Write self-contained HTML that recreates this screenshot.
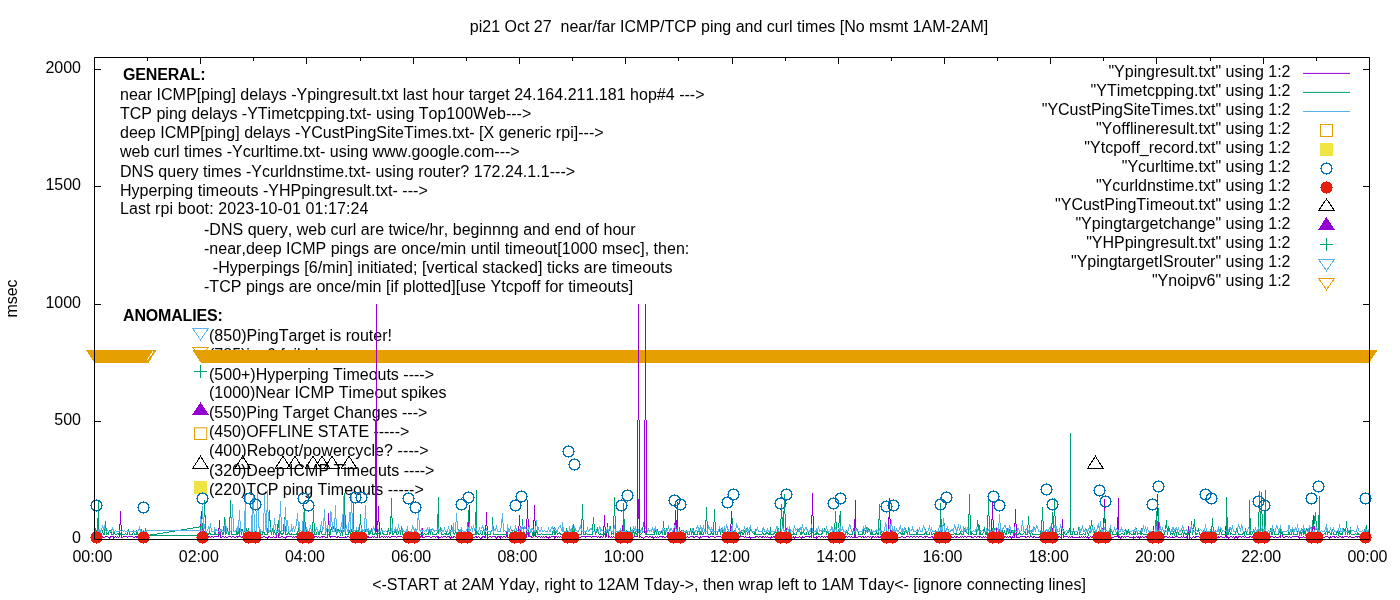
<!DOCTYPE html><html><head><meta charset="utf-8"><style>
html,body{margin:0;padding:0;background:#fff;width:1400px;height:600px;overflow:hidden}
svg{display:block;will-change:transform}
text{font-family:"Liberation Sans",sans-serif;font-size:16px;fill:#000;white-space:pre;font-kerning:none}
.b{font-weight:bold}
</style></head><body>
<svg width="1400" height="600" viewBox="0 0 1400 600">
<rect width="1400" height="600" fill="#fff"/>

<text x="729" y="32" text-anchor="middle">pi21 Oct 27  near/far ICMP/TCP ping and curl times [No msmt 1AM-2AM]</text>
<text x="729" y="590" text-anchor="middle">&lt;-START at 2AM Yday, right to 12AM Tday-&gt;, then wrap left to 1AM Tday&lt;- [ignore connecting lines]</text>
<text transform="translate(17,298.5) rotate(-90)" text-anchor="middle">msec</text>
<text x="81" y="542.6" text-anchor="end">0</text>
<text x="81" y="425.2" text-anchor="end">500</text>
<text x="81" y="307.8" text-anchor="end">1000</text>
<text x="81" y="190.4" text-anchor="end">1500</text>
<text x="81" y="73.0" text-anchor="end">2000</text>
<text x="92.5" y="562" text-anchor="middle">00:00</text>
<text x="198.8" y="562" text-anchor="middle">02:00</text>
<text x="305.0" y="562" text-anchor="middle">04:00</text>
<text x="411.2" y="562" text-anchor="middle">06:00</text>
<text x="517.5" y="562" text-anchor="middle">08:00</text>
<text x="623.8" y="562" text-anchor="middle">10:00</text>
<text x="730.0" y="562" text-anchor="middle">12:00</text>
<text x="836.2" y="562" text-anchor="middle">14:00</text>
<text x="942.5" y="562" text-anchor="middle">16:00</text>
<text x="1048.8" y="562" text-anchor="middle">18:00</text>
<text x="1155.0" y="562" text-anchor="middle">20:00</text>
<text x="1261.2" y="562" text-anchor="middle">22:00</text>
<text x="1367.5" y="562" text-anchor="middle">00:00</text>
<text x="123.0" y="80" class="b" textLength="82.46" lengthAdjust="spacing">GENERAL:</text>
<text x="120.0" y="100" textLength="584.52" lengthAdjust="spacing">near ICMP[ping] delays -Ypingresult.txt last hour target 24.164.211.181 hop#4 ---&gt;</text>
<text x="120.0" y="119">TCP ping delays -YTimetcpping.txt- using Top100Web---&gt;</text>
<text x="120.0" y="138" textLength="483.62" lengthAdjust="spacing">deep ICMP[ping] delays -YCustPingSiteTimes.txt- [X generic rpi]---&gt;</text>
<text x="120.0" y="157">web curl times -Ycurltime.txt- using www.google.com---&gt;</text>
<text x="120.0" y="176.5" textLength="455.08" lengthAdjust="spacing">DNS query times -Ycurldnstime.txt- using router? 172.24.1.1---&gt;</text>
<text x="120.0" y="195.7" textLength="307.73" lengthAdjust="spacing">Hyperping timeouts -YHPpingresult.txt- ---&gt;</text>
<text x="120.0" y="214" textLength="248.32" lengthAdjust="spacing">Last rpi boot: 2023-10-01 01:17:24</text>
<text x="204.0" y="234.5" textLength="431.57" lengthAdjust="spacing">-DNS query, web curl are twice/hr, beginnng and end of hour</text>
<text x="204.0" y="253.7" textLength="485.31" lengthAdjust="spacing">-near,deep ICMP pings are once/min until timeout[1000 msec], then:</text>
<text x="212.8" y="272.7" textLength="459.80" lengthAdjust="spacing">-Hyperpings [6/min] initiated; [vertical stacked] ticks are timeouts</text>
<text x="204.0" y="291.5" textLength="429.25" lengthAdjust="spacing">-TCP pings are once/min [if plotted][use Ytcpoff for timeouts]</text>
<text x="123.0" y="321" class="b" textLength="99.75" lengthAdjust="spacing">ANOMALIES:</text>
<text x="209.0" y="340.5" textLength="183.06" lengthAdjust="spacing">(850)PingTarget is router!</text>
<text x="209.0" y="359.5">(785)ipv6 failed</text>
<text x="209.0" y="379.7">(500+)Hyperping Timeouts ----&gt;</text>
<text x="209.0" y="398">(1000)Near ICMP Timeout spikes</text>
<text x="209.0" y="417.5">(550)Ping Target Changes ---&gt;</text>
<text x="209.0" y="436.5" textLength="200.26" lengthAdjust="spacing">(450)OFFLINE STATE -----&gt;</text>
<text x="209.0" y="455.5" textLength="219.52" lengthAdjust="spacing">(400)Reboot/powercycle? ----&gt;</text>
<text x="209.0" y="476.3">(320)Deep ICMP Timeouts ----&gt;</text>
<text x="209.0" y="495.3">(220)TCP ping Timeouts -----&gt;</text>
<text x="1290.5" y="76.9" text-anchor="end">"Ypingresult.txt" using 1:2</text>
<text x="1290.5" y="95.9" text-anchor="end">"YTimetcpping.txt" using 1:2</text>
<text x="1290.5" y="115.0" text-anchor="end">"YCustPingSiteTimes.txt" using 1:2</text>
<text x="1290.5" y="134.0" text-anchor="end">"Yofflineresult.txt" using 1:2</text>
<text x="1290.5" y="153.0" text-anchor="end">"Ytcpoff_record.txt" using 1:2</text>
<text x="1290.5" y="172.1" text-anchor="end">"Ycurltime.txt" using 1:2</text>
<text x="1290.5" y="191.1" text-anchor="end">"Ycurldnstime.txt" using 1:2</text>
<text x="1290.5" y="210.1" text-anchor="end">"YCustPingTimeout.txt" using 1:2</text>
<text x="1290.5" y="229.1" text-anchor="end">"Ypingtargetchange" using 1:2</text>
<text x="1290.5" y="248.2" text-anchor="end">"YHPpingresult.txt" using 1:2</text>
<text x="1290.5" y="267.2" text-anchor="end">"YpingtargetISrouter" using 1:2</text>
<text x="1290.5" y="286.2" text-anchor="end">"Ynoipv6" using 1:2</text>
<path d="M1303 73.4H1350" stroke="#9400d3" stroke-width="1"/>
<path d="M1303 92.4H1350" stroke="#009e73" stroke-width="1"/>
<path d="M1303 111.5H1350" stroke="#56b4e9" stroke-width="1"/>
<rect x="1320.5" y="124.5" width="12.0" height="12.0" fill="none" stroke="#e69f00" stroke-width="1"/>
<rect x="1320.0" y="143.0" width="13.0" height="13.0" fill="#f0e442" shape-rendering="crispEdges"/>
<path transform="translate(1326,168)" d="M0 -6h1v1h-1zM-3 -5h7v1h-7zM-4 -4h2v1h-2zM3 -4h2v1h-2zM-5 -3h2v1h-2zM4 -3h2v1h-2zM-5 -2h1v1h-1zM5 -2h1v1h-1zM-5 -1h1v1h-1zM5 -1h1v1h-1zM-6 0h2v1h-2zM5 0h2v1h-2zM-5 1h1v1h-1zM5 1h1v1h-1zM-5 2h1v1h-1zM5 2h1v1h-1zM-5 3h2v1h-2zM4 3h2v1h-2zM-4 4h2v1h-2zM3 4h2v1h-2zM-3 5h7v1h-7zM0 6h1v1h-1z" fill="#0072b2" shape-rendering="crispEdges"/>
<path transform="translate(1326,187)" d="M0 -6h1v1h-1zM-3 -5h7v1h-7zM-4 -4h9v1h-9zM-5 -3h11v1h-11zM-5 -2h11v1h-11zM-5 -1h11v1h-11zM-6 0h13v1h-13zM-5 1h11v1h-11zM-5 2h11v1h-11zM-5 3h11v1h-11zM-4 4h9v1h-9zM-3 5h7v1h-7zM0 6h1v1h-1z" fill="#e51e10" shape-rendering="crispEdges"/>
<polygon points="1318.7,210.3 1326.5,199.0 1334.3,210.3" fill="none" stroke="#000000" stroke-width="1" shape-rendering="crispEdges"/>
<polygon points="1318.0,229.8 1326.5,217.0 1335.0,229.8" fill="#9400d3" shape-rendering="crispEdges"/>
<path d="M1320.0 244.5H1333.0M1326.5 238.0V251.0" stroke="#009e73" stroke-width="1" fill="none"/>
<polygon points="1318.7,259.5 1326.5,270.8 1334.3,259.5" fill="none" stroke="#56b4e9" stroke-width="1" shape-rendering="crispEdges"/>
<polygon points="1318.7,278.5 1326.5,289.8 1334.3,278.5" fill="none" stroke="#e69f00" stroke-width="1" shape-rendering="crispEdges"/>
<polygon points="193.0,328.9 200.5,340.0 208.0,328.9" fill="none" stroke="#56b4e9" stroke-width="1" shape-rendering="crispEdges"/>
<polygon points="193.0,347.7 200.5,359.0 208.0,347.7" fill="none" stroke="#e69f00" stroke-width="1" shape-rendering="crispEdges"/>
<path d="M194.0 371.5H207.0M200.5 365.0V378.0" stroke="#009e73" stroke-width="1" fill="none"/>
<polygon points="192.0,415.0 200.5,402.0 209.0,415.0" fill="#9400d3" shape-rendering="crispEdges"/>
<rect x="194.5" y="427.8" width="12.2" height="11.7" fill="none" stroke="#e69f00" stroke-width="1"/>
<polygon points="192.9,468.1 200.5,456.2 208.1,468.1" fill="none" stroke="#000000" stroke-width="1" shape-rendering="crispEdges"/>
<rect x="194.2" y="481.0" width="13.0" height="13.0" fill="#f0e442" shape-rendering="crispEdges"/>
<g stroke="#000" stroke-width="1" fill="none">
<path d="M94.5 539.5h6.5M1369.5 539.5h-6.5"/>
<path d="M94.5 421.5h6.5M1369.5 421.5h-6.5"/>
<path d="M94.5 304.5h6.5M1369.5 304.5h-6.5"/>
<path d="M94.5 186.5h6.5M1369.5 186.5h-6.5"/>
<path d="M94.5 69.5h6.5M1369.5 69.5h-6.5"/>
<path d="M94.5 57.5v6.5M94.5 539.5v-6.5"/>
<path d="M147.5 57.5v3.5M147.5 539.5v-3.5"/>
<path d="M200.5 57.5v6.5M200.5 539.5v-6.5"/>
<path d="M253.5 57.5v3.5M253.5 539.5v-3.5"/>
<path d="M306.5 57.5v6.5M306.5 539.5v-6.5"/>
<path d="M360.5 57.5v3.5M360.5 539.5v-3.5"/>
<path d="M413.5 57.5v6.5M413.5 539.5v-6.5"/>
<path d="M466.5 57.5v3.5M466.5 539.5v-3.5"/>
<path d="M519.5 57.5v6.5M519.5 539.5v-6.5"/>
<path d="M572.5 57.5v3.5M572.5 539.5v-3.5"/>
<path d="M625.5 57.5v6.5M625.5 539.5v-6.5"/>
<path d="M678.5 57.5v3.5M678.5 539.5v-3.5"/>
<path d="M732.5 57.5v6.5M732.5 539.5v-6.5"/>
<path d="M785.5 57.5v3.5M785.5 539.5v-3.5"/>
<path d="M838.5 57.5v6.5M838.5 539.5v-6.5"/>
<path d="M891.5 57.5v3.5M891.5 539.5v-3.5"/>
<path d="M944.5 57.5v6.5M944.5 539.5v-6.5"/>
<path d="M997.5 57.5v3.5M997.5 539.5v-3.5"/>
<path d="M1050.5 57.5v6.5M1050.5 539.5v-6.5"/>
<path d="M1103.5 57.5v3.5M1103.5 539.5v-3.5"/>
<path d="M1156.5 57.5v6.5M1156.5 539.5v-6.5"/>
<path d="M1210.5 57.5v3.5M1210.5 539.5v-3.5"/>
<path d="M1263.5 57.5v6.5M1263.5 539.5v-6.5"/>
<path d="M1316.5 57.5v3.5M1316.5 539.5v-3.5"/>
<path d="M1369.5 57.5v6.5M1369.5 539.5v-6.5"/>
</g>
<g>
<path d="M94.50 536.50 95.50 536.50 96.50 536.50 97.50 536.50 98.50 537.50 98.50 537.50 99.50 536.50 100.50 536.50 101.50 536.50 102.50 536.50 103.50 537.50 104.50 537.50 105.50 536.50 106.50 536.50 106.50 536.50 107.50 536.50 108.50 537.50 109.50 538.50 110.50 536.50 111.50 536.50 112.50 536.50 113.50 536.50 113.50 538.50 114.50 537.50 115.50 536.50 116.50 537.50 117.50 536.50 118.50 537.50 119.50 536.50 120.50 511.50 121.50 537.50 121.50 537.50 122.50 537.50 123.50 536.50 124.50 536.50 125.50 536.50 126.50 536.50 127.50 537.50 128.50 536.50 129.50 536.50 129.50 536.50 130.50 536.50 131.50 536.50 132.50 536.50 133.50 537.50 134.50 537.50 135.50 536.50 136.50 536.50 136.50 537.50 137.50 536.50 138.50 536.50 139.50 537.50 140.50 536.50 141.50 536.50 142.50 536.50 143.50 536.50 144.50 537.50 144.50 536.50 145.50 537.50 146.50 536.50M200.50 537.50 201.50 511.50 202.50 537.50 203.50 525.50 204.50 536.50 205.50 536.50 206.50 537.50 206.50 537.50 207.50 536.50 208.50 536.50 209.50 536.50 210.50 537.50 211.50 536.50 212.50 536.50 213.50 537.50 214.50 536.50 214.50 536.50 215.50 536.50 216.50 536.50 217.50 536.50 218.50 536.50 219.50 520.50 220.50 537.50 221.50 537.50 222.50 536.50 222.50 536.50 223.50 536.50 224.50 537.50 225.50 536.50 226.50 537.50 227.50 537.50 228.50 536.50 229.50 536.50 229.50 536.50 230.50 536.50 231.50 537.50 232.50 536.50 233.50 536.50 234.50 537.50 235.50 537.50 236.50 536.50 237.50 536.50 237.50 537.50 238.50 536.50 239.50 536.50 240.50 536.50 241.50 537.50 242.50 536.50 243.50 536.50 244.50 537.50 245.50 536.50 245.50 537.50 246.50 537.50 247.50 530.50 248.50 537.50 249.50 536.50 250.50 536.50 251.50 536.50 252.50 536.50 252.50 536.50 253.50 536.50 254.50 537.50 255.50 536.50 256.50 536.50 257.50 537.50 258.50 537.50 259.50 536.50 260.50 536.50 260.50 536.50 261.50 537.50 262.50 537.50 263.50 536.50 264.50 536.50 265.50 537.50 266.50 537.50 267.50 538.50 268.50 536.50 268.50 537.50 269.50 536.50 270.50 537.50 271.50 537.50 272.50 537.50 273.50 536.50 274.50 537.50 275.50 537.50 276.50 537.50 276.50 536.50 277.50 527.50 278.50 537.50 279.50 537.50 280.50 537.50 281.50 536.50 282.50 536.50 283.50 537.50 283.50 537.50 284.50 537.50 285.50 538.50 286.50 536.50 287.50 536.50 288.50 536.50 289.50 536.50 290.50 536.50 291.50 536.50 291.50 536.50 292.50 537.50 293.50 536.50 294.50 537.50 295.50 536.50 296.50 536.50 297.50 536.50 298.50 537.50 299.50 536.50 299.50 536.50 300.50 537.50 301.50 537.50 302.50 537.50 303.50 536.50 304.50 536.50 305.50 536.50 306.50 537.50 306.50 536.50 307.50 537.50 308.50 537.50 309.50 537.50 310.50 536.50 311.50 537.50 312.50 536.50 313.50 537.50 314.50 536.50 314.50 536.50 315.50 536.50 316.50 536.50 317.50 537.50 318.50 536.50 319.50 537.50 320.50 537.50 321.50 536.50 322.50 536.50 322.50 537.50 323.50 536.50 324.50 536.50 325.50 537.50 326.50 537.50 327.50 537.50 328.50 513.50 329.50 536.50 330.50 536.50 330.50 537.50 331.50 536.50 332.50 536.50 333.50 536.50 334.50 536.50 335.50 536.50 336.50 537.50 337.50 537.50 337.50 536.50 338.50 536.50 339.50 537.50 340.50 537.50 341.50 537.50 342.50 537.50 343.50 537.50 344.50 537.50 345.50 537.50 345.50 536.50 346.50 537.50 347.50 536.50 348.50 536.50 349.50 537.50 350.50 536.50 351.50 536.50 352.50 537.50 353.50 536.50 353.50 537.50 354.50 536.50 355.50 537.50 356.50 536.50 357.50 536.50 358.50 536.50 359.50 537.50 360.50 537.50 361.50 537.50 361.50 536.50 362.50 537.50 363.50 537.50 364.50 538.50 365.50 537.50 366.50 536.50 367.50 536.50 368.50 537.50 368.50 536.50 369.50 537.50 370.50 537.50 371.50 537.50 372.50 536.50 373.50 537.50 374.50 536.50 375.50 537.50 376.50 537.50 376.50 537.50 377.50 537.50 378.50 506.50 379.50 537.50 380.50 537.50 381.50 536.50 382.50 536.50 383.50 537.50 384.50 536.50 384.50 536.50 385.50 537.50 386.50 536.50 387.50 537.50 388.50 536.50 389.50 537.50 390.50 537.50 391.50 536.50 392.50 536.50 392.50 536.50 393.50 536.50 394.50 536.50 395.50 536.50 396.50 537.50 397.50 536.50 398.50 536.50 399.50 536.50 399.50 536.50 400.50 536.50 401.50 536.50 402.50 537.50 403.50 537.50 404.50 536.50 405.50 537.50 406.50 536.50 407.50 536.50 407.50 537.50 408.50 538.50 409.50 536.50 410.50 537.50 411.50 536.50 412.50 537.50 413.50 537.50 414.50 537.50 415.50 537.50 415.50 536.50 416.50 536.50 417.50 537.50 418.50 537.50 419.50 537.50 420.50 536.50 421.50 536.50 422.50 528.50 422.50 537.50 423.50 537.50 424.50 537.50 425.50 536.50 426.50 536.50 427.50 536.50 428.50 536.50 429.50 536.50 430.50 537.50 430.50 537.50 431.50 537.50 432.50 536.50 433.50 536.50 434.50 536.50 435.50 537.50 436.50 536.50 437.50 536.50 438.50 538.50 438.50 536.50 439.50 537.50 440.50 537.50 441.50 536.50 442.50 537.50 443.50 536.50 444.50 536.50 445.50 536.50 446.50 537.50 446.50 537.50 447.50 536.50 448.50 536.50 449.50 536.50 450.50 538.50 451.50 536.50 452.50 537.50 453.50 536.50 453.50 537.50 454.50 536.50 455.50 537.50 456.50 536.50 457.50 536.50 458.50 536.50 459.50 536.50 460.50 537.50 461.50 538.50 461.50 537.50 462.50 537.50 463.50 536.50 464.50 536.50 465.50 537.50 466.50 537.50 467.50 536.50 468.50 537.50 469.50 505.50 469.50 537.50 470.50 537.50 471.50 536.50 472.50 536.50 473.50 537.50 474.50 537.50 475.50 536.50 476.50 537.50 476.50 536.50 477.50 537.50 478.50 536.50 479.50 537.50 480.50 538.50 481.50 538.50 482.50 536.50 483.50 536.50 484.50 536.50 484.50 537.50 485.50 537.50 486.50 512.50 487.50 538.50 488.50 537.50 489.50 536.50 490.50 536.50 491.50 537.50 492.50 536.50 492.50 536.50 493.50 536.50 494.50 536.50 495.50 536.50 496.50 538.50 497.50 536.50 498.50 536.50 499.50 536.50 500.50 538.50 500.50 536.50 501.50 536.50 502.50 537.50 503.50 536.50 504.50 536.50 505.50 537.50 506.50 536.50 507.50 527.50 507.50 537.50 508.50 537.50 509.50 537.50 510.50 538.50 511.50 536.50 512.50 537.50 513.50 536.50 514.50 536.50 515.50 538.50 515.50 536.50 516.50 537.50 517.50 538.50 518.50 537.50 519.50 515.50 520.50 536.50 521.50 528.50 522.50 536.50 523.50 537.50 523.50 536.50 524.50 537.50 525.50 538.50 526.50 537.50 527.50 500.50 528.50 536.50 529.50 536.50 530.50 536.50 531.50 536.50 531.50 537.50 532.50 537.50 533.50 536.50 534.50 505.50 535.50 536.50 536.50 536.50 537.50 537.50 538.50 536.50 538.50 536.50 539.50 536.50 540.50 537.50 541.50 536.50 542.50 537.50 543.50 536.50 544.50 537.50 545.50 536.50 546.50 536.50 546.50 537.50 547.50 537.50 548.50 538.50 549.50 536.50 550.50 537.50 551.50 536.50 552.50 536.50 553.50 536.50 554.50 536.50 554.50 538.50 555.50 536.50 556.50 536.50 557.50 537.50 558.50 536.50 559.50 537.50 560.50 536.50 561.50 537.50 562.50 536.50 562.50 536.50 563.50 536.50 564.50 536.50 565.50 536.50 566.50 538.50 567.50 536.50 568.50 536.50 569.50 536.50 569.50 536.50 570.50 536.50 571.50 536.50 572.50 536.50 573.50 536.50 574.50 536.50 575.50 538.50 576.50 536.50 577.50 537.50 577.50 537.50 578.50 536.50 579.50 537.50 580.50 537.50 581.50 536.50 582.50 536.50 583.50 536.50 584.50 536.50 585.50 536.50 585.50 537.50 586.50 536.50 587.50 536.50 588.50 536.50 589.50 536.50 590.50 536.50 591.50 537.50 592.50 536.50 592.50 536.50 593.50 536.50 594.50 536.50 595.50 536.50 596.50 536.50 597.50 537.50 598.50 536.50 599.50 537.50 600.50 537.50 600.50 536.50 601.50 536.50 602.50 537.50 603.50 536.50 604.50 515.50 605.50 537.50 606.50 536.50 607.50 523.50 608.50 536.50 608.50 537.50 609.50 536.50 610.50 537.50 611.50 536.50 612.50 537.50 613.50 536.50 614.50 537.50 615.50 537.50 616.50 536.50 616.50 537.50 617.50 538.50 618.50 537.50 619.50 536.50 620.50 536.50 621.50 537.50 622.50 525.50 623.50 536.50 623.50 536.50 624.50 536.50 625.50 536.50 626.50 537.50 627.50 537.50 628.50 536.50 629.50 537.50 630.50 536.50 631.50 537.50 631.50 536.50 632.50 536.50 633.50 537.50 634.50 536.50 635.50 536.50 636.50 536.50 637.50 536.50 638.50 499.50 639.50 537.50 639.50 536.50 640.50 536.50 641.50 537.50 642.50 537.50 643.50 538.50 644.50 537.50 645.50 536.50 646.50 536.50 646.50 536.50 647.50 536.50 648.50 537.50 649.50 536.50 650.50 536.50 651.50 537.50 652.50 536.50 653.50 538.50 654.50 537.50 654.50 537.50 655.50 536.50 656.50 537.50 657.50 536.50 658.50 537.50 659.50 536.50 660.50 536.50 661.50 536.50 662.50 536.50 662.50 537.50 663.50 536.50 664.50 537.50 665.50 537.50 666.50 536.50 667.50 536.50 668.50 532.50 669.50 536.50 670.50 538.50 670.50 537.50 671.50 537.50 672.50 536.50 673.50 536.50 674.50 536.50 675.50 510.50 676.50 538.50 677.50 502.50 677.50 526.50 678.50 537.50 679.50 536.50 680.50 537.50 681.50 536.50 682.50 537.50 683.50 536.50 684.50 536.50 685.50 538.50 685.50 536.50 686.50 537.50 687.50 536.50 688.50 537.50 689.50 537.50 690.50 536.50 691.50 536.50 692.50 536.50 693.50 536.50 693.50 537.50 694.50 537.50 695.50 536.50 696.50 536.50 697.50 536.50 698.50 537.50 699.50 538.50 700.50 536.50 701.50 537.50 701.50 537.50 702.50 536.50 703.50 536.50 704.50 536.50 705.50 536.50 706.50 536.50 707.50 536.50 708.50 537.50 708.50 536.50 709.50 537.50 710.50 536.50 711.50 536.50 712.50 536.50 713.50 536.50 714.50 537.50 715.50 537.50 716.50 536.50 716.50 536.50 717.50 536.50 718.50 536.50 719.50 536.50 720.50 536.50 721.50 537.50 722.50 536.50 723.50 537.50 724.50 537.50 724.50 536.50 725.50 537.50 726.50 537.50 727.50 537.50 728.50 536.50 729.50 537.50 730.50 536.50 731.50 511.50 732.50 536.50 732.50 537.50 733.50 536.50 734.50 537.50 735.50 537.50 736.50 537.50 737.50 537.50 738.50 536.50 739.50 537.50 739.50 536.50 740.50 536.50 741.50 536.50 742.50 536.50 743.50 536.50 744.50 537.50 745.50 536.50 746.50 537.50 747.50 537.50 747.50 537.50 748.50 537.50 749.50 536.50 750.50 538.50 751.50 537.50 752.50 537.50 753.50 537.50 754.50 537.50 755.50 537.50 755.50 536.50 756.50 536.50 757.50 536.50 758.50 537.50 759.50 536.50 760.50 536.50 761.50 537.50 762.50 536.50 762.50 537.50 763.50 536.50 764.50 537.50 765.50 536.50 766.50 537.50 767.50 536.50 768.50 537.50 769.50 537.50 770.50 537.50 770.50 538.50 771.50 536.50 772.50 537.50 773.50 536.50 774.50 536.50 775.50 536.50 776.50 537.50 777.50 536.50 778.50 537.50 778.50 537.50 779.50 537.50 780.50 537.50 781.50 537.50 782.50 536.50 783.50 536.50 784.50 537.50 785.50 538.50 786.50 528.50 786.50 537.50 787.50 538.50 788.50 536.50 789.50 536.50 790.50 536.50 791.50 536.50 792.50 537.50 793.50 537.50 793.50 536.50 794.50 538.50 795.50 536.50 796.50 537.50 797.50 537.50 798.50 537.50 799.50 536.50 800.50 537.50 801.50 537.50 801.50 538.50 802.50 536.50 803.50 537.50 804.50 537.50 805.50 536.50 806.50 536.50 807.50 536.50 808.50 536.50 809.50 536.50 809.50 537.50 810.50 536.50 811.50 537.50 812.50 493.50 813.50 537.50 814.50 537.50 815.50 537.50 816.50 536.50 816.50 538.50 817.50 537.50 818.50 536.50 819.50 536.50 820.50 537.50 821.50 536.50 822.50 536.50 823.50 537.50 824.50 536.50 824.50 536.50 825.50 537.50 826.50 536.50 827.50 536.50 828.50 536.50 829.50 536.50 830.50 537.50 831.50 536.50 832.50 536.50 832.50 536.50 833.50 536.50 834.50 537.50 835.50 536.50 836.50 536.50 837.50 536.50 838.50 537.50 839.50 536.50 840.50 536.50 840.50 538.50 841.50 537.50 842.50 536.50 843.50 537.50 844.50 536.50 845.50 536.50 846.50 536.50 847.50 537.50 847.50 537.50 848.50 536.50 849.50 536.50 850.50 537.50 851.50 536.50 852.50 537.50 853.50 537.50 854.50 537.50 855.50 500.50 855.50 537.50 856.50 537.50 857.50 537.50 858.50 536.50 859.50 536.50 860.50 536.50 861.50 537.50 862.50 536.50 863.50 536.50 863.50 537.50 864.50 537.50 865.50 536.50 866.50 537.50 867.50 536.50 868.50 536.50 869.50 537.50 870.50 536.50 871.50 537.50 871.50 538.50 872.50 536.50 873.50 536.50 874.50 537.50 875.50 536.50 876.50 537.50 877.50 536.50 878.50 536.50 878.50 537.50 879.50 537.50 880.50 536.50 881.50 537.50 882.50 537.50 883.50 536.50 884.50 536.50 885.50 536.50 886.50 536.50 886.50 537.50 887.50 537.50 888.50 536.50 889.50 498.50 890.50 538.50 891.50 537.50 892.50 536.50 893.50 536.50 894.50 537.50 894.50 536.50 895.50 537.50 896.50 537.50 897.50 538.50 898.50 537.50 899.50 537.50 900.50 537.50 901.50 536.50 902.50 536.50 902.50 536.50 903.50 537.50 904.50 537.50 905.50 537.50 906.50 536.50 907.50 536.50 908.50 536.50 909.50 537.50 909.50 537.50 910.50 536.50 911.50 536.50 912.50 537.50 913.50 536.50 914.50 536.50 915.50 537.50 916.50 536.50 917.50 536.50 917.50 536.50 918.50 537.50 919.50 536.50 920.50 536.50 921.50 536.50 922.50 537.50 923.50 537.50 924.50 536.50 925.50 536.50 925.50 537.50 926.50 536.50 927.50 536.50 928.50 537.50 929.50 537.50 930.50 537.50 931.50 536.50 932.50 536.50 932.50 536.50 933.50 538.50 934.50 537.50 935.50 536.50 936.50 537.50 937.50 536.50 938.50 536.50 939.50 536.50 940.50 536.50 940.50 537.50 941.50 537.50 942.50 536.50 943.50 537.50 944.50 536.50 945.50 536.50 946.50 536.50 947.50 536.50 948.50 536.50 948.50 536.50 949.50 536.50 950.50 537.50 951.50 536.50 952.50 537.50 953.50 537.50 954.50 536.50 955.50 537.50 956.50 537.50 956.50 536.50 957.50 536.50 958.50 537.50 959.50 537.50 960.50 536.50 961.50 537.50 962.50 536.50 963.50 537.50 963.50 537.50 964.50 536.50 965.50 536.50 966.50 537.50 967.50 536.50 968.50 536.50 969.50 536.50 970.50 536.50 971.50 537.50 971.50 536.50 972.50 537.50 973.50 537.50 974.50 536.50 975.50 536.50 976.50 537.50 977.50 536.50 978.50 536.50 979.50 536.50 979.50 537.50 980.50 536.50 981.50 537.50 982.50 537.50 983.50 536.50 984.50 537.50 985.50 536.50 986.50 537.50 986.50 537.50 987.50 537.50 988.50 537.50 989.50 536.50 990.50 537.50 991.50 536.50 992.50 502.50 993.50 536.50 994.50 538.50 994.50 536.50 995.50 536.50 996.50 528.50 997.50 536.50 998.50 530.50 999.50 537.50 1000.50 537.50 1001.50 536.50 1002.50 536.50 1002.50 537.50 1003.50 536.50 1004.50 536.50 1005.50 536.50 1006.50 537.50 1007.50 536.50 1008.50 537.50 1009.50 536.50 1010.50 536.50 1010.50 537.50 1011.50 538.50 1012.50 536.50 1013.50 537.50 1014.50 537.50 1015.50 509.50 1016.50 537.50 1017.50 537.50 1017.50 537.50 1018.50 537.50 1019.50 537.50 1020.50 536.50 1021.50 536.50 1022.50 536.50 1023.50 536.50 1024.50 536.50 1025.50 536.50 1025.50 537.50 1026.50 537.50 1027.50 536.50 1028.50 536.50 1029.50 537.50 1030.50 536.50 1031.50 536.50 1032.50 537.50 1033.50 537.50 1033.50 536.50 1034.50 536.50 1035.50 537.50 1036.50 537.50 1037.50 537.50 1038.50 537.50 1039.50 536.50 1040.50 536.50 1041.50 536.50 1041.50 537.50 1042.50 536.50 1043.50 536.50 1044.50 536.50 1045.50 536.50 1046.50 536.50 1047.50 537.50 1048.50 536.50 1048.50 536.50 1049.50 536.50 1050.50 537.50 1051.50 537.50 1052.50 528.50 1053.50 536.50 1054.50 536.50 1055.50 536.50 1056.50 538.50 1056.50 538.50 1057.50 536.50 1058.50 536.50 1059.50 536.50 1060.50 537.50 1061.50 538.50 1062.50 519.50 1063.50 537.50 1064.50 536.50 1064.50 536.50 1065.50 536.50 1066.50 536.50 1067.50 536.50 1068.50 537.50 1069.50 536.50 1070.50 537.50 1071.50 536.50 1072.50 536.50 1072.50 537.50 1073.50 537.50 1074.50 537.50 1075.50 537.50 1076.50 537.50 1077.50 537.50 1078.50 537.50 1079.50 537.50 1079.50 536.50 1080.50 537.50 1081.50 536.50 1082.50 537.50 1083.50 536.50 1084.50 537.50 1085.50 536.50 1086.50 537.50 1087.50 536.50 1087.50 536.50 1088.50 538.50 1089.50 537.50 1090.50 536.50 1091.50 537.50 1092.50 536.50 1093.50 536.50 1094.50 538.50 1095.50 536.50 1095.50 538.50 1096.50 536.50 1097.50 536.50 1098.50 537.50 1099.50 536.50 1100.50 536.50 1101.50 536.50 1102.50 537.50 1102.50 528.50 1103.50 536.50 1104.50 499.50 1105.50 537.50 1106.50 538.50 1107.50 536.50 1108.50 537.50 1109.50 536.50 1110.50 536.50 1110.50 537.50 1111.50 538.50 1112.50 537.50 1113.50 537.50 1114.50 536.50 1115.50 536.50 1116.50 536.50 1117.50 536.50 1118.50 498.50 1118.50 537.50 1119.50 536.50 1120.50 538.50 1121.50 536.50 1122.50 536.50 1123.50 537.50 1124.50 536.50 1125.50 537.50 1126.50 536.50 1126.50 536.50 1127.50 536.50 1128.50 536.50 1129.50 537.50 1130.50 537.50 1131.50 537.50 1132.50 537.50 1133.50 538.50 1133.50 536.50 1134.50 537.50 1135.50 537.50 1136.50 536.50 1137.50 537.50 1138.50 536.50 1139.50 538.50 1140.50 536.50 1141.50 537.50 1141.50 537.50 1142.50 536.50 1143.50 537.50 1144.50 537.50 1145.50 536.50 1146.50 536.50 1147.50 536.50 1148.50 538.50 1149.50 536.50 1149.50 537.50 1150.50 536.50 1151.50 538.50 1152.50 537.50 1153.50 526.50 1154.50 538.50 1155.50 537.50 1156.50 537.50 1156.50 536.50 1157.50 494.50 1158.50 536.50 1159.50 536.50 1160.50 536.50 1161.50 536.50 1162.50 538.50 1163.50 536.50 1164.50 536.50 1164.50 537.50 1165.50 536.50 1166.50 536.50 1167.50 537.50 1168.50 537.50 1169.50 536.50 1170.50 537.50 1171.50 537.50 1172.50 536.50 1172.50 537.50 1173.50 537.50 1174.50 537.50 1175.50 536.50 1176.50 536.50 1177.50 536.50 1178.50 537.50 1179.50 537.50 1180.50 537.50 1180.50 537.50 1181.50 536.50 1182.50 537.50 1183.50 536.50 1184.50 537.50 1185.50 537.50 1186.50 536.50 1187.50 538.50 1187.50 537.50 1188.50 526.50 1189.50 538.50 1190.50 537.50 1191.50 538.50 1192.50 537.50 1193.50 536.50 1194.50 537.50 1195.50 536.50 1195.50 537.50 1196.50 536.50 1197.50 536.50 1198.50 536.50 1199.50 537.50 1200.50 537.50 1201.50 537.50 1202.50 536.50 1203.50 536.50 1203.50 537.50 1204.50 537.50 1205.50 536.50 1206.50 536.50 1207.50 536.50 1208.50 537.50 1209.50 537.50 1210.50 536.50 1211.50 536.50 1211.50 536.50 1212.50 533.50 1213.50 537.50 1214.50 536.50 1215.50 536.50 1216.50 538.50 1217.50 537.50 1218.50 537.50 1218.50 536.50 1219.50 537.50 1220.50 536.50 1221.50 536.50 1222.50 537.50 1223.50 537.50 1224.50 537.50 1225.50 536.50 1226.50 516.50 1226.50 537.50 1227.50 536.50 1228.50 538.50 1229.50 537.50 1230.50 536.50 1231.50 536.50 1232.50 537.50 1233.50 536.50 1234.50 537.50 1234.50 538.50 1235.50 536.50 1236.50 536.50 1237.50 538.50 1238.50 536.50 1239.50 536.50 1240.50 536.50 1241.50 537.50 1242.50 536.50 1242.50 536.50 1243.50 536.50 1244.50 537.50 1245.50 536.50 1246.50 537.50 1247.50 537.50 1248.50 537.50 1249.50 536.50 1249.50 537.50 1250.50 536.50 1251.50 537.50 1252.50 536.50 1253.50 537.50 1254.50 536.50 1255.50 537.50 1256.50 536.50 1257.50 538.50 1257.50 536.50 1258.50 538.50 1259.50 536.50 1260.50 537.50 1261.50 537.50 1262.50 537.50 1263.50 536.50 1264.50 528.50 1265.50 536.50 1265.50 524.50 1266.50 536.50 1267.50 537.50 1268.50 537.50 1269.50 536.50 1270.50 536.50 1271.50 536.50 1272.50 536.50 1272.50 536.50 1273.50 537.50 1274.50 537.50 1275.50 536.50 1276.50 537.50 1277.50 537.50 1278.50 537.50 1279.50 536.50 1280.50 537.50 1280.50 536.50 1281.50 531.50 1282.50 536.50 1283.50 537.50 1284.50 537.50 1285.50 536.50 1286.50 536.50 1287.50 536.50 1288.50 537.50 1288.50 537.50 1289.50 536.50 1290.50 537.50 1291.50 537.50 1292.50 536.50 1293.50 536.50 1294.50 536.50 1295.50 536.50 1296.50 536.50 1296.50 536.50 1297.50 536.50 1298.50 536.50 1299.50 538.50 1300.50 537.50 1301.50 537.50 1302.50 537.50 1303.50 536.50 1303.50 536.50 1304.50 537.50 1305.50 537.50 1306.50 537.50 1307.50 537.50 1308.50 537.50 1309.50 536.50 1310.50 536.50 1311.50 537.50 1311.50 536.50 1312.50 537.50 1313.50 515.50 1314.50 536.50 1315.50 534.50 1316.50 537.50 1317.50 537.50 1318.50 537.50 1319.50 536.50 1319.50 536.50 1320.50 538.50 1321.50 537.50 1322.50 537.50 1323.50 537.50 1324.50 537.50 1325.50 536.50 1326.50 536.50 1326.50 536.50 1327.50 536.50 1328.50 537.50 1329.50 538.50 1330.50 536.50 1331.50 537.50 1332.50 536.50 1333.50 536.50 1334.50 537.50 1334.50 536.50 1335.50 537.50 1336.50 536.50 1337.50 537.50 1338.50 537.50 1339.50 536.50 1340.50 536.50 1341.50 537.50 1342.50 536.50 1342.50 537.50 1343.50 537.50 1344.50 536.50 1345.50 536.50 1346.50 536.50 1347.50 536.50 1348.50 537.50 1349.50 536.50 1350.50 536.50 1350.50 536.50 1351.50 537.50 1352.50 537.50 1353.50 537.50 1354.50 537.50 1355.50 536.50 1356.50 536.50 1357.50 537.50 1357.50 536.50 1358.50 536.50 1359.50 536.50 1360.50 536.50 1361.50 536.50 1362.50 536.50 1363.50 536.50 1364.50 536.50 1365.50 537.50 1365.50 536.50 1366.50 537.50 1367.50 536.50 1368.50 536.50" fill="none" stroke="#9400d3" stroke-width="1" shape-rendering="crispEdges"/>
<path d="M94.50 534.50 95.50 529.50 96.50 531.50 97.50 534.50 98.50 501.50 98.50 534.50 99.50 530.50 100.50 534.50 101.50 534.50 102.50 531.50 103.50 534.50 104.50 534.50 105.50 521.50 106.50 534.50 106.50 534.50 107.50 533.50 108.50 534.50 109.50 530.50 110.50 530.50 111.50 534.50 112.50 534.50 113.50 534.50 113.50 529.50 114.50 533.50 115.50 534.50 116.50 534.50 117.50 533.50 118.50 534.50 119.50 531.50 120.50 534.50 121.50 534.50 121.50 534.50 122.50 534.50 123.50 534.50 124.50 534.50 125.50 533.50 126.50 534.50 127.50 534.50 128.50 529.50 129.50 534.50 129.50 534.50 130.50 534.50 131.50 534.50 132.50 534.50 133.50 531.50 134.50 534.50 135.50 534.50 136.50 534.50 136.50 530.50 137.50 534.50 138.50 534.50 139.50 534.50 140.50 534.50 141.50 529.50 142.50 534.50 143.50 534.50 144.50 534.50 144.50 534.50 145.50 528.50 146.50 533.50M200.50 527.50 201.50 534.50 202.50 523.50 203.50 534.50 204.50 500.50 205.50 528.50 206.50 534.50 206.50 531.50 207.50 534.50 208.50 534.50 209.50 532.50 210.50 534.50 211.50 534.50 212.50 534.50 213.50 534.50 214.50 534.50 214.50 532.50 215.50 534.50 216.50 534.50 217.50 534.50 218.50 534.50 219.50 534.50 220.50 529.50 221.50 529.50 222.50 534.50 222.50 534.50 223.50 534.50 224.50 517.50 225.50 534.50 226.50 533.50 227.50 528.50 228.50 534.50 229.50 534.50 229.50 533.50 230.50 500.50 231.50 534.50 232.50 534.50 233.50 534.50 234.50 534.50 235.50 534.50 236.50 534.50 237.50 528.50 237.50 534.50 238.50 532.50 239.50 534.50 240.50 522.50 241.50 534.50 242.50 529.50 243.50 533.50 244.50 528.50 245.50 534.50 245.50 534.50 246.50 529.50 247.50 531.50 248.50 529.50 249.50 534.50 250.50 534.50 251.50 534.50 252.50 531.50 252.50 534.50 253.50 534.50 254.50 532.50 255.50 534.50 256.50 528.50 257.50 534.50 258.50 534.50 259.50 530.50 260.50 534.50 260.50 534.50 261.50 534.50 262.50 534.50 263.50 530.50 264.50 534.50 265.50 534.50 266.50 534.50 267.50 534.50 268.50 521.50 268.50 532.50 269.50 510.50 270.50 529.50 271.50 534.50 272.50 528.50 273.50 534.50 274.50 531.50 275.50 534.50 276.50 533.50 276.50 534.50 277.50 528.50 278.50 520.50 279.50 534.50 280.50 532.50 281.50 534.50 282.50 534.50 283.50 532.50 283.50 530.50 284.50 517.50 285.50 534.50 286.50 534.50 287.50 534.50 288.50 532.50 289.50 534.50 290.50 534.50 291.50 534.50 291.50 533.50 292.50 534.50 293.50 534.50 294.50 534.50 295.50 534.50 296.50 534.50 297.50 532.50 298.50 529.50 299.50 534.50 299.50 534.50 300.50 534.50 301.50 534.50 302.50 534.50 303.50 534.50 304.50 509.50 305.50 534.50 306.50 530.50 306.50 528.50 307.50 533.50 308.50 534.50 309.50 533.50 310.50 534.50 311.50 530.50 312.50 534.50 313.50 510.50 314.50 534.50 314.50 534.50 315.50 534.50 316.50 534.50 317.50 529.50 318.50 534.50 319.50 534.50 320.50 529.50 321.50 533.50 322.50 534.50 322.50 534.50 323.50 534.50 324.50 534.50 325.50 534.50 326.50 529.50 327.50 534.50 328.50 534.50 329.50 533.50 330.50 534.50 330.50 530.50 331.50 528.50 332.50 530.50 333.50 526.50 334.50 527.50 335.50 529.50 336.50 534.50 337.50 530.50 337.50 529.50 338.50 529.50 339.50 531.50 340.50 534.50 341.50 531.50 342.50 534.50 343.50 529.50 344.50 493.50 345.50 534.50 345.50 534.50 346.50 534.50 347.50 534.50 348.50 534.50 349.50 530.50 350.50 534.50 351.50 529.50 352.50 534.50 353.50 502.50 353.50 534.50 354.50 534.50 355.50 534.50 356.50 531.50 357.50 534.50 358.50 528.50 359.50 534.50 360.50 514.50 361.50 534.50 361.50 534.50 362.50 531.50 363.50 534.50 364.50 534.50 365.50 529.50 366.50 528.50 367.50 529.50 368.50 534.50 368.50 530.50 369.50 534.50 370.50 533.50 371.50 528.50 372.50 534.50 373.50 534.50 374.50 534.50 375.50 532.50 376.50 534.50 376.50 534.50 377.50 534.50 378.50 533.50 379.50 534.50 380.50 534.50 381.50 528.50 382.50 532.50 383.50 534.50 384.50 534.50 384.50 534.50 385.50 534.50 386.50 534.50 387.50 534.50 388.50 528.50 389.50 534.50 390.50 533.50 391.50 498.50 392.50 534.50 392.50 534.50 393.50 534.50 394.50 531.50 395.50 530.50 396.50 534.50 397.50 534.50 398.50 533.50 399.50 529.50 399.50 528.50 400.50 534.50 401.50 526.50 402.50 534.50 403.50 534.50 404.50 534.50 405.50 534.50 406.50 534.50 407.50 529.50 407.50 534.50 408.50 534.50 409.50 534.50 410.50 534.50 411.50 534.50 412.50 534.50 413.50 534.50 414.50 529.50 415.50 534.50 415.50 528.50 416.50 532.50 417.50 534.50 418.50 534.50 419.50 534.50 420.50 534.50 421.50 534.50 422.50 533.50 422.50 534.50 423.50 534.50 424.50 533.50 425.50 534.50 426.50 534.50 427.50 533.50 428.50 534.50 429.50 530.50 430.50 534.50 430.50 533.50 431.50 529.50 432.50 534.50 433.50 534.50 434.50 534.50 435.50 534.50 436.50 534.50 437.50 531.50 438.50 497.50 438.50 533.50 439.50 530.50 440.50 528.50 441.50 534.50 442.50 534.50 443.50 534.50 444.50 533.50 445.50 534.50 446.50 531.50 446.50 534.50 447.50 534.50 448.50 534.50 449.50 532.50 450.50 534.50 451.50 525.50 452.50 530.50 453.50 528.50 453.50 533.50 454.50 534.50 455.50 531.50 456.50 532.50 457.50 534.50 458.50 529.50 459.50 530.50 460.50 534.50 461.50 534.50 461.50 531.50 462.50 534.50 463.50 534.50 464.50 534.50 465.50 534.50 466.50 534.50 467.50 534.50 468.50 510.50 469.50 531.50 469.50 534.50 470.50 534.50 471.50 534.50 472.50 534.50 473.50 534.50 474.50 534.50 475.50 534.50 476.50 490.50 476.50 534.50 477.50 532.50 478.50 534.50 479.50 534.50 480.50 533.50 481.50 534.50 482.50 534.50 483.50 527.50 484.50 534.50 484.50 534.50 485.50 534.50 486.50 534.50 487.50 534.50 488.50 534.50 489.50 534.50 490.50 534.50 491.50 530.50 492.50 530.50 492.50 517.50 493.50 534.50 494.50 534.50 495.50 534.50 496.50 534.50 497.50 534.50 498.50 534.50 499.50 534.50 500.50 534.50 500.50 534.50 501.50 534.50 502.50 534.50 503.50 534.50 504.50 534.50 505.50 534.50 506.50 534.50 507.50 534.50 507.50 534.50 508.50 529.50 509.50 529.50 510.50 534.50 511.50 534.50 512.50 530.50 513.50 534.50 514.50 529.50 515.50 534.50 515.50 534.50 516.50 528.50 517.50 534.50 518.50 534.50 519.50 529.50 520.50 534.50 521.50 534.50 522.50 519.50 523.50 534.50 523.50 530.50 524.50 534.50 525.50 534.50 526.50 534.50 527.50 534.50 528.50 529.50 529.50 534.50 530.50 531.50 531.50 529.50 531.50 529.50 532.50 534.50 533.50 531.50 534.50 534.50 535.50 529.50 536.50 530.50 537.50 534.50 538.50 534.50 538.50 534.50 539.50 534.50 540.50 534.50 541.50 533.50 542.50 534.50 543.50 534.50 544.50 534.50 545.50 534.50 546.50 534.50 546.50 534.50 547.50 534.50 548.50 534.50 549.50 534.50 550.50 534.50 551.50 534.50 552.50 534.50 553.50 528.50 554.50 534.50 554.50 527.50 555.50 534.50 556.50 531.50 557.50 534.50 558.50 533.50 559.50 532.50 560.50 534.50 561.50 534.50 562.50 534.50 562.50 534.50 563.50 534.50 564.50 531.50 565.50 532.50 566.50 529.50 567.50 534.50 568.50 534.50 569.50 534.50 569.50 534.50 570.50 534.50 571.50 534.50 572.50 532.50 573.50 524.50 574.50 531.50 575.50 534.50 576.50 534.50 577.50 534.50 577.50 534.50 578.50 534.50 579.50 534.50 580.50 534.50 581.50 534.50 582.50 504.50 583.50 534.50 584.50 534.50 585.50 534.50 585.50 532.50 586.50 533.50 587.50 534.50 588.50 534.50 589.50 534.50 590.50 534.50 591.50 534.50 592.50 534.50 592.50 531.50 593.50 517.50 594.50 529.50 595.50 534.50 596.50 530.50 597.50 528.50 598.50 533.50 599.50 534.50 600.50 534.50 600.50 533.50 601.50 534.50 602.50 534.50 603.50 534.50 604.50 534.50 605.50 532.50 606.50 532.50 607.50 530.50 608.50 534.50 608.50 530.50 609.50 530.50 610.50 526.50 611.50 534.50 612.50 533.50 613.50 534.50 614.50 497.50 615.50 533.50 616.50 534.50 616.50 534.50 617.50 532.50 618.50 534.50 619.50 534.50 620.50 534.50 621.50 534.50 622.50 534.50 623.50 534.50 623.50 503.50 624.50 534.50 625.50 534.50 626.50 530.50 627.50 534.50 628.50 534.50 629.50 534.50 630.50 527.50 631.50 534.50 631.50 533.50 632.50 534.50 633.50 530.50 634.50 534.50 635.50 532.50 636.50 534.50 637.50 534.50 638.50 531.50 639.50 532.50 639.50 534.50 640.50 534.50 641.50 533.50 642.50 532.50 643.50 522.50 644.50 531.50 645.50 534.50 646.50 527.50 646.50 534.50 647.50 534.50 648.50 534.50 649.50 534.50 650.50 534.50 651.50 534.50 652.50 534.50 653.50 534.50 654.50 534.50 654.50 533.50 655.50 528.50 656.50 534.50 657.50 529.50 658.50 534.50 659.50 534.50 660.50 533.50 661.50 531.50 662.50 530.50 662.50 534.50 663.50 521.50 664.50 534.50 665.50 534.50 666.50 528.50 667.50 534.50 668.50 534.50 669.50 534.50 670.50 534.50 670.50 534.50 671.50 534.50 672.50 534.50 673.50 530.50 674.50 534.50 675.50 534.50 676.50 534.50 677.50 527.50 677.50 534.50 678.50 534.50 679.50 527.50 680.50 534.50 681.50 530.50 682.50 534.50 683.50 531.50 684.50 534.50 685.50 534.50 685.50 534.50 686.50 530.50 687.50 534.50 688.50 534.50 689.50 534.50 690.50 528.50 691.50 534.50 692.50 530.50 693.50 534.50 693.50 528.50 694.50 534.50 695.50 534.50 696.50 534.50 697.50 534.50 698.50 528.50 699.50 534.50 700.50 534.50 701.50 528.50 701.50 534.50 702.50 534.50 703.50 534.50 704.50 530.50 705.50 533.50 706.50 507.50 707.50 533.50 708.50 534.50 708.50 534.50 709.50 534.50 710.50 534.50 711.50 532.50 712.50 534.50 713.50 534.50 714.50 509.50 715.50 534.50 716.50 534.50 716.50 534.50 717.50 534.50 718.50 529.50 719.50 528.50 720.50 534.50 721.50 528.50 722.50 531.50 723.50 534.50 724.50 528.50 724.50 534.50 725.50 534.50 726.50 534.50 727.50 534.50 728.50 530.50 729.50 534.50 730.50 534.50 731.50 534.50 732.50 518.50 732.50 533.50 733.50 533.50 734.50 531.50 735.50 533.50 736.50 534.50 737.50 534.50 738.50 534.50 739.50 530.50 739.50 532.50 740.50 534.50 741.50 530.50 742.50 534.50 743.50 534.50 744.50 531.50 745.50 534.50 746.50 528.50 747.50 534.50 747.50 534.50 748.50 530.50 749.50 534.50 750.50 528.50 751.50 529.50 752.50 532.50 753.50 533.50 754.50 534.50 755.50 529.50 755.50 534.50 756.50 534.50 757.50 534.50 758.50 534.50 759.50 534.50 760.50 534.50 761.50 534.50 762.50 533.50 762.50 531.50 763.50 534.50 764.50 534.50 765.50 534.50 766.50 532.50 767.50 532.50 768.50 534.50 769.50 534.50 770.50 527.50 770.50 534.50 771.50 534.50 772.50 534.50 773.50 534.50 774.50 532.50 775.50 531.50 776.50 533.50 777.50 530.50 778.50 528.50 778.50 534.50 779.50 534.50 780.50 534.50 781.50 504.50 782.50 528.50 783.50 527.50 784.50 494.50 785.50 531.50 786.50 534.50 786.50 530.50 787.50 534.50 788.50 534.50 789.50 528.50 790.50 534.50 791.50 534.50 792.50 534.50 793.50 534.50 793.50 531.50 794.50 534.50 795.50 534.50 796.50 534.50 797.50 529.50 798.50 529.50 799.50 528.50 800.50 534.50 801.50 530.50 801.50 534.50 802.50 533.50 803.50 531.50 804.50 534.50 805.50 534.50 806.50 534.50 807.50 529.50 808.50 534.50 809.50 534.50 809.50 534.50 810.50 533.50 811.50 534.50 812.50 531.50 813.50 534.50 814.50 534.50 815.50 534.50 816.50 532.50 816.50 534.50 817.50 532.50 818.50 534.50 819.50 534.50 820.50 534.50 821.50 534.50 822.50 532.50 823.50 530.50 824.50 531.50 824.50 528.50 825.50 529.50 826.50 533.50 827.50 530.50 828.50 534.50 829.50 534.50 830.50 533.50 831.50 534.50 832.50 529.50 832.50 534.50 833.50 529.50 834.50 534.50 835.50 511.50 836.50 532.50 837.50 534.50 838.50 528.50 839.50 518.50 840.50 511.50 840.50 533.50 841.50 533.50 842.50 534.50 843.50 534.50 844.50 534.50 845.50 534.50 846.50 530.50 847.50 534.50 847.50 534.50 848.50 533.50 849.50 534.50 850.50 534.50 851.50 534.50 852.50 534.50 853.50 529.50 854.50 532.50 855.50 534.50 855.50 533.50 856.50 528.50 857.50 529.50 858.50 534.50 859.50 534.50 860.50 534.50 861.50 534.50 862.50 534.50 863.50 528.50 863.50 533.50 864.50 534.50 865.50 533.50 866.50 527.50 867.50 531.50 868.50 528.50 869.50 529.50 870.50 534.50 871.50 534.50 871.50 529.50 872.50 534.50 873.50 534.50 874.50 534.50 875.50 534.50 876.50 532.50 877.50 534.50 878.50 534.50 878.50 533.50 879.50 504.50 880.50 534.50 881.50 531.50 882.50 534.50 883.50 534.50 884.50 534.50 885.50 534.50 886.50 532.50 886.50 533.50 887.50 533.50 888.50 533.50 889.50 534.50 890.50 533.50 891.50 531.50 892.50 534.50 893.50 534.50 894.50 534.50 894.50 528.50 895.50 534.50 896.50 534.50 897.50 534.50 898.50 533.50 899.50 532.50 900.50 532.50 901.50 534.50 902.50 534.50 902.50 532.50 903.50 534.50 904.50 534.50 905.50 528.50 906.50 531.50 907.50 534.50 908.50 528.50 909.50 530.50 909.50 534.50 910.50 534.50 911.50 534.50 912.50 534.50 913.50 534.50 914.50 534.50 915.50 534.50 916.50 534.50 917.50 529.50 917.50 534.50 918.50 534.50 919.50 534.50 920.50 534.50 921.50 534.50 922.50 534.50 923.50 534.50 924.50 534.50 925.50 532.50 925.50 529.50 926.50 534.50 927.50 534.50 928.50 534.50 929.50 534.50 930.50 529.50 931.50 534.50 932.50 534.50 932.50 534.50 933.50 533.50 934.50 534.50 935.50 531.50 936.50 534.50 937.50 534.50 938.50 531.50 939.50 534.50 940.50 534.50 940.50 503.50 941.50 534.50 942.50 530.50 943.50 522.50 944.50 524.50 945.50 534.50 946.50 533.50 947.50 534.50 948.50 534.50 948.50 534.50 949.50 534.50 950.50 534.50 951.50 534.50 952.50 534.50 953.50 534.50 954.50 533.50 955.50 534.50 956.50 531.50 956.50 534.50 957.50 534.50 958.50 534.50 959.50 534.50 960.50 532.50 961.50 534.50 962.50 534.50 963.50 534.50 963.50 534.50 964.50 529.50 965.50 531.50 966.50 532.50 967.50 533.50 968.50 534.50 969.50 494.50 970.50 534.50 971.50 534.50 971.50 532.50 972.50 533.50 973.50 534.50 974.50 534.50 975.50 534.50 976.50 534.50 977.50 520.50 978.50 527.50 979.50 534.50 979.50 525.50 980.50 534.50 981.50 534.50 982.50 534.50 983.50 531.50 984.50 527.50 985.50 534.50 986.50 534.50 986.50 532.50 987.50 534.50 988.50 496.50 989.50 534.50 990.50 534.50 991.50 534.50 992.50 528.50 993.50 531.50 994.50 528.50 994.50 534.50 995.50 534.50 996.50 534.50 997.50 534.50 998.50 534.50 999.50 529.50 1000.50 529.50 1001.50 533.50 1002.50 534.50 1002.50 529.50 1003.50 534.50 1004.50 531.50 1005.50 534.50 1006.50 534.50 1007.50 528.50 1008.50 532.50 1009.50 530.50 1010.50 534.50 1010.50 534.50 1011.50 530.50 1012.50 530.50 1013.50 534.50 1014.50 531.50 1015.50 534.50 1016.50 534.50 1017.50 534.50 1017.50 534.50 1018.50 534.50 1019.50 532.50 1020.50 534.50 1021.50 534.50 1022.50 534.50 1023.50 533.50 1024.50 532.50 1025.50 529.50 1025.50 534.50 1026.50 534.50 1027.50 534.50 1028.50 516.50 1029.50 532.50 1030.50 534.50 1031.50 531.50 1032.50 534.50 1033.50 534.50 1033.50 534.50 1034.50 534.50 1035.50 534.50 1036.50 534.50 1037.50 534.50 1038.50 534.50 1039.50 534.50 1040.50 534.50 1041.50 528.50 1041.50 534.50 1042.50 507.50 1043.50 534.50 1044.50 534.50 1045.50 534.50 1046.50 534.50 1047.50 531.50 1048.50 529.50 1048.50 534.50 1049.50 534.50 1050.50 528.50 1051.50 534.50 1052.50 512.50 1053.50 534.50 1054.50 498.50 1055.50 532.50 1056.50 527.50 1056.50 534.50 1057.50 534.50 1058.50 534.50 1059.50 533.50 1060.50 534.50 1061.50 534.50 1062.50 534.50 1063.50 534.50 1064.50 532.50 1064.50 533.50 1065.50 534.50 1066.50 534.50 1067.50 531.50 1068.50 532.50 1069.50 528.50 1070.50 534.50 1071.50 534.50 1072.50 534.50 1072.50 534.50 1073.50 528.50 1074.50 534.50 1075.50 534.50 1076.50 534.50 1077.50 534.50 1078.50 527.50 1079.50 534.50 1079.50 534.50 1080.50 534.50 1081.50 534.50 1082.50 534.50 1083.50 533.50 1084.50 534.50 1085.50 534.50 1086.50 530.50 1087.50 532.50 1087.50 532.50 1088.50 534.50 1089.50 531.50 1090.50 532.50 1091.50 520.50 1092.50 528.50 1093.50 529.50 1094.50 533.50 1095.50 534.50 1095.50 530.50 1096.50 531.50 1097.50 533.50 1098.50 534.50 1099.50 534.50 1100.50 531.50 1101.50 533.50 1102.50 532.50 1102.50 531.50 1103.50 534.50 1104.50 511.50 1105.50 534.50 1106.50 534.50 1107.50 532.50 1108.50 534.50 1109.50 530.50 1110.50 528.50 1110.50 533.50 1111.50 529.50 1112.50 534.50 1113.50 534.50 1114.50 534.50 1115.50 534.50 1116.50 534.50 1117.50 530.50 1118.50 534.50 1118.50 533.50 1119.50 534.50 1120.50 534.50 1121.50 533.50 1122.50 533.50 1123.50 534.50 1124.50 534.50 1125.50 529.50 1126.50 533.50 1126.50 534.50 1127.50 532.50 1128.50 530.50 1129.50 534.50 1130.50 533.50 1131.50 534.50 1132.50 534.50 1133.50 534.50 1133.50 532.50 1134.50 534.50 1135.50 534.50 1136.50 528.50 1137.50 534.50 1138.50 533.50 1139.50 533.50 1140.50 534.50 1141.50 528.50 1141.50 534.50 1142.50 533.50 1143.50 534.50 1144.50 534.50 1145.50 534.50 1146.50 534.50 1147.50 534.50 1148.50 534.50 1149.50 534.50 1149.50 534.50 1150.50 534.50 1151.50 534.50 1152.50 534.50 1153.50 534.50 1154.50 534.50 1155.50 529.50 1156.50 511.50 1156.50 522.50 1157.50 534.50 1158.50 508.50 1159.50 534.50 1160.50 532.50 1161.50 534.50 1162.50 534.50 1163.50 534.50 1164.50 534.50 1164.50 534.50 1165.50 529.50 1166.50 520.50 1167.50 534.50 1168.50 527.50 1169.50 529.50 1170.50 534.50 1171.50 533.50 1172.50 534.50 1172.50 534.50 1173.50 532.50 1174.50 534.50 1175.50 531.50 1176.50 534.50 1177.50 529.50 1178.50 534.50 1179.50 534.50 1180.50 534.50 1180.50 534.50 1181.50 534.50 1182.50 531.50 1183.50 534.50 1184.50 532.50 1185.50 534.50 1186.50 534.50 1187.50 531.50 1187.50 534.50 1188.50 534.50 1189.50 531.50 1190.50 532.50 1191.50 521.50 1192.50 534.50 1193.50 529.50 1194.50 519.50 1195.50 534.50 1195.50 534.50 1196.50 534.50 1197.50 532.50 1198.50 528.50 1199.50 534.50 1200.50 534.50 1201.50 534.50 1202.50 534.50 1203.50 530.50 1203.50 534.50 1204.50 531.50 1205.50 534.50 1206.50 532.50 1207.50 534.50 1208.50 534.50 1209.50 534.50 1210.50 529.50 1211.50 528.50 1211.50 534.50 1212.50 518.50 1213.50 534.50 1214.50 534.50 1215.50 531.50 1216.50 534.50 1217.50 534.50 1218.50 534.50 1218.50 534.50 1219.50 534.50 1220.50 528.50 1221.50 534.50 1222.50 534.50 1223.50 534.50 1224.50 534.50 1225.50 534.50 1226.50 534.50 1226.50 497.50 1227.50 534.50 1228.50 534.50 1229.50 528.50 1230.50 534.50 1231.50 533.50 1232.50 534.50 1233.50 534.50 1234.50 534.50 1234.50 534.50 1235.50 534.50 1236.50 529.50 1237.50 531.50 1238.50 534.50 1239.50 534.50 1240.50 534.50 1241.50 534.50 1242.50 534.50 1242.50 534.50 1243.50 532.50 1244.50 534.50 1245.50 528.50 1246.50 534.50 1247.50 534.50 1248.50 534.50 1249.50 534.50 1249.50 500.50 1250.50 534.50 1251.50 534.50 1252.50 533.50 1253.50 529.50 1254.50 533.50 1255.50 534.50 1256.50 534.50 1257.50 534.50 1257.50 534.50 1258.50 532.50 1259.50 491.50 1260.50 530.50 1261.50 492.50 1262.50 534.50 1263.50 534.50 1264.50 534.50 1265.50 490.50 1265.50 534.50 1266.50 534.50 1267.50 534.50 1268.50 534.50 1269.50 534.50 1270.50 528.50 1271.50 534.50 1272.50 534.50 1272.50 534.50 1273.50 529.50 1274.50 534.50 1275.50 534.50 1276.50 534.50 1277.50 534.50 1278.50 534.50 1279.50 531.50 1280.50 529.50 1280.50 534.50 1281.50 530.50 1282.50 534.50 1283.50 534.50 1284.50 534.50 1285.50 534.50 1286.50 534.50 1287.50 534.50 1288.50 534.50 1288.50 529.50 1289.50 534.50 1290.50 534.50 1291.50 534.50 1292.50 529.50 1293.50 534.50 1294.50 534.50 1295.50 534.50 1296.50 534.50 1296.50 534.50 1297.50 534.50 1298.50 528.50 1299.50 534.50 1300.50 532.50 1301.50 534.50 1302.50 529.50 1303.50 534.50 1303.50 529.50 1304.50 532.50 1305.50 534.50 1306.50 528.50 1307.50 529.50 1308.50 534.50 1309.50 528.50 1310.50 534.50 1311.50 531.50 1311.50 534.50 1312.50 520.50 1313.50 528.50 1314.50 520.50 1315.50 512.50 1316.50 529.50 1317.50 528.50 1318.50 534.50 1319.50 496.50 1319.50 534.50 1320.50 534.50 1321.50 533.50 1322.50 534.50 1323.50 534.50 1324.50 533.50 1325.50 534.50 1326.50 530.50 1326.50 528.50 1327.50 534.50 1328.50 531.50 1329.50 531.50 1330.50 534.50 1331.50 534.50 1332.50 529.50 1333.50 534.50 1334.50 534.50 1334.50 534.50 1335.50 534.50 1336.50 534.50 1337.50 530.50 1338.50 534.50 1339.50 532.50 1340.50 534.50 1341.50 534.50 1342.50 531.50 1342.50 534.50 1343.50 528.50 1344.50 529.50 1345.50 534.50 1346.50 521.50 1347.50 534.50 1348.50 530.50 1349.50 534.50 1350.50 527.50 1350.50 533.50 1351.50 534.50 1352.50 534.50 1353.50 534.50 1354.50 534.50 1355.50 533.50 1356.50 534.50 1357.50 534.50 1357.50 532.50 1358.50 534.50 1359.50 534.50 1360.50 534.50 1361.50 534.50 1362.50 534.50 1363.50 533.50 1364.50 529.50 1365.50 534.50 1365.50 528.50 1366.50 526.50 1367.50 534.50 1368.50 531.50" fill="none" stroke="#009e73" stroke-width="1" shape-rendering="crispEdges"/>
<path d="M94.50 531.50 95.50 531.50 96.50 531.50 97.50 531.50 98.50 531.50 98.50 529.50 99.50 529.50 100.50 531.50 101.50 529.50 102.50 526.50 103.50 528.50 104.50 526.50 105.50 530.50 106.50 531.50 106.50 531.50 107.50 530.50 108.50 531.50 109.50 531.50 110.50 531.50 111.50 531.50 112.50 527.50 113.50 531.50 113.50 531.50 114.50 531.50 115.50 530.50 116.50 531.50 117.50 531.50 118.50 531.50 119.50 530.50 120.50 530.50 121.50 531.50 121.50 531.50 122.50 530.50 123.50 531.50 124.50 530.50 125.50 531.50 126.50 531.50 127.50 530.50 128.50 531.50 129.50 531.50 129.50 531.50 130.50 531.50 131.50 531.50 132.50 531.50 133.50 531.50 134.50 531.50 135.50 531.50 136.50 531.50 136.50 531.50 137.50 531.50 138.50 530.50 139.50 527.50 140.50 531.50 141.50 531.50 142.50 531.50 143.50 530.50 144.50 531.50 144.50 531.50 145.50 531.50 146.50 531.50M200.50 516.50 201.50 531.50 202.50 506.50 203.50 527.50 204.50 525.50 205.50 531.50 206.50 531.50 206.50 531.50 207.50 530.50 208.50 527.50 209.50 530.50 210.50 523.50 211.50 531.50 212.50 531.50 213.50 531.50 214.50 531.50 214.50 527.50 215.50 531.50 216.50 529.50 217.50 530.50 218.50 531.50 219.50 531.50 220.50 531.50 221.50 529.50 222.50 530.50 222.50 530.50 223.50 531.50 224.50 531.50 225.50 519.50 226.50 531.50 227.50 531.50 228.50 531.50 229.50 531.50 229.50 531.50 230.50 531.50 231.50 530.50 232.50 504.50 233.50 531.50 234.50 531.50 235.50 531.50 236.50 529.50 237.50 526.50 237.50 531.50 238.50 530.50 239.50 510.50 240.50 531.50 241.50 531.50 242.50 531.50 243.50 531.50 244.50 530.50 245.50 493.50 245.50 531.50 246.50 531.50 247.50 531.50 248.50 530.50 249.50 531.50 250.50 531.50 251.50 531.50 252.50 498.50 252.50 530.50 253.50 494.50 254.50 531.50 255.50 531.50 256.50 531.50 257.50 491.50 258.50 527.50 259.50 527.50 260.50 531.50 260.50 531.50 261.50 531.50 262.50 531.50 263.50 531.50 264.50 495.50 265.50 528.50 266.50 531.50 267.50 490.50 268.50 531.50 268.50 531.50 269.50 531.50 270.50 528.50 271.50 531.50 272.50 531.50 273.50 531.50 274.50 518.50 275.50 528.50 276.50 531.50 276.50 531.50 277.50 531.50 278.50 531.50 279.50 527.50 280.50 501.50 281.50 531.50 282.50 530.50 283.50 531.50 283.50 531.50 284.50 531.50 285.50 507.50 286.50 531.50 287.50 520.50 288.50 531.50 289.50 531.50 290.50 531.50 291.50 529.50 291.50 524.50 292.50 531.50 293.50 526.50 294.50 531.50 295.50 526.50 296.50 525.50 297.50 513.50 298.50 527.50 299.50 522.50 299.50 531.50 300.50 530.50 301.50 531.50 302.50 530.50 303.50 512.50 304.50 531.50 305.50 531.50 306.50 527.50 306.50 527.50 307.50 531.50 308.50 531.50 309.50 531.50 310.50 525.50 311.50 531.50 312.50 531.50 313.50 531.50 314.50 531.50 314.50 531.50 315.50 531.50 316.50 527.50 317.50 531.50 318.50 531.50 319.50 531.50 320.50 529.50 321.50 521.50 322.50 529.50 322.50 531.50 323.50 526.50 324.50 509.50 325.50 531.50 326.50 531.50 327.50 525.50 328.50 531.50 329.50 531.50 330.50 511.50 330.50 526.50 331.50 512.50 332.50 530.50 333.50 531.50 334.50 531.50 335.50 505.50 336.50 531.50 337.50 531.50 337.50 531.50 338.50 531.50 339.50 531.50 340.50 531.50 341.50 522.50 342.50 531.50 343.50 496.50 344.50 531.50 345.50 531.50 345.50 531.50 346.50 525.50 347.50 531.50 348.50 531.50 349.50 512.50 350.50 531.50 351.50 493.50 352.50 530.50 353.50 531.50 353.50 529.50 354.50 530.50 355.50 531.50 356.50 528.50 357.50 531.50 358.50 528.50 359.50 531.50 360.50 531.50 361.50 530.50 361.50 528.50 362.50 530.50 363.50 530.50 364.50 531.50 365.50 505.50 366.50 531.50 367.50 531.50 368.50 528.50 368.50 529.50 369.50 531.50 370.50 530.50 371.50 531.50 372.50 531.50 373.50 526.50 374.50 530.50 375.50 530.50 376.50 522.50 376.50 531.50 377.50 525.50 378.50 531.50 379.50 531.50 380.50 531.50 381.50 530.50 382.50 531.50 383.50 531.50 384.50 531.50 384.50 531.50 385.50 530.50 386.50 531.50 387.50 530.50 388.50 531.50 389.50 530.50 390.50 531.50 391.50 531.50 392.50 524.50 392.50 530.50 393.50 531.50 394.50 531.50 395.50 527.50 396.50 531.50 397.50 531.50 398.50 524.50 399.50 531.50 399.50 531.50 400.50 531.50 401.50 531.50 402.50 529.50 403.50 531.50 404.50 531.50 405.50 531.50 406.50 531.50 407.50 526.50 407.50 531.50 408.50 531.50 409.50 531.50 410.50 531.50 411.50 531.50 412.50 526.50 413.50 528.50 414.50 530.50 415.50 531.50 415.50 528.50 416.50 531.50 417.50 527.50 418.50 509.50 419.50 530.50 420.50 531.50 421.50 529.50 422.50 531.50 422.50 531.50 423.50 530.50 424.50 531.50 425.50 530.50 426.50 531.50 427.50 527.50 428.50 531.50 429.50 527.50 430.50 531.50 430.50 531.50 431.50 531.50 432.50 528.50 433.50 529.50 434.50 531.50 435.50 530.50 436.50 530.50 437.50 531.50 438.50 527.50 438.50 527.50 439.50 531.50 440.50 531.50 441.50 529.50 442.50 531.50 443.50 531.50 444.50 528.50 445.50 531.50 446.50 531.50 446.50 531.50 447.50 531.50 448.50 526.50 449.50 531.50 450.50 531.50 451.50 531.50 452.50 531.50 453.50 523.50 453.50 531.50 454.50 530.50 455.50 530.50 456.50 513.50 457.50 528.50 458.50 531.50 459.50 531.50 460.50 531.50 461.50 527.50 461.50 531.50 462.50 530.50 463.50 531.50 464.50 531.50 465.50 531.50 466.50 530.50 467.50 527.50 468.50 529.50 469.50 524.50 469.50 531.50 470.50 530.50 471.50 527.50 472.50 530.50 473.50 526.50 474.50 529.50 475.50 526.50 476.50 530.50 476.50 530.50 477.50 531.50 478.50 531.50 479.50 528.50 480.50 531.50 481.50 529.50 482.50 525.50 483.50 529.50 484.50 529.50 484.50 531.50 485.50 531.50 486.50 529.50 487.50 531.50 488.50 531.50 489.50 531.50 490.50 531.50 491.50 531.50 492.50 530.50 492.50 525.50 493.50 531.50 494.50 529.50 495.50 530.50 496.50 525.50 497.50 531.50 498.50 531.50 499.50 531.50 500.50 530.50 500.50 531.50 501.50 524.50 502.50 513.50 503.50 531.50 504.50 530.50 505.50 531.50 506.50 531.50 507.50 531.50 507.50 524.50 508.50 531.50 509.50 531.50 510.50 527.50 511.50 530.50 512.50 531.50 513.50 530.50 514.50 531.50 515.50 526.50 515.50 525.50 516.50 530.50 517.50 530.50 518.50 531.50 519.50 531.50 520.50 528.50 521.50 530.50 522.50 525.50 523.50 531.50 523.50 531.50 524.50 526.50 525.50 527.50 526.50 530.50 527.50 530.50 528.50 528.50 529.50 526.50 530.50 531.50 531.50 528.50 531.50 531.50 532.50 528.50 533.50 529.50 534.50 531.50 535.50 531.50 536.50 520.50 537.50 531.50 538.50 528.50 538.50 528.50 539.50 531.50 540.50 531.50 541.50 528.50 542.50 531.50 543.50 531.50 544.50 530.50 545.50 531.50 546.50 531.50 546.50 531.50 547.50 531.50 548.50 528.50 549.50 531.50 550.50 531.50 551.50 527.50 552.50 526.50 553.50 531.50 554.50 528.50 554.50 529.50 555.50 528.50 556.50 531.50 557.50 531.50 558.50 527.50 559.50 526.50 560.50 525.50 561.50 530.50 562.50 531.50 562.50 522.50 563.50 531.50 564.50 531.50 565.50 531.50 566.50 531.50 567.50 530.50 568.50 531.50 569.50 530.50 569.50 526.50 570.50 531.50 571.50 531.50 572.50 525.50 573.50 530.50 574.50 526.50 575.50 530.50 576.50 530.50 577.50 531.50 577.50 531.50 578.50 531.50 579.50 528.50 580.50 526.50 581.50 530.50 582.50 531.50 583.50 531.50 584.50 531.50 585.50 531.50 585.50 531.50 586.50 531.50 587.50 528.50 588.50 531.50 589.50 530.50 590.50 528.50 591.50 528.50 592.50 531.50 592.50 531.50 593.50 531.50 594.50 531.50 595.50 531.50 596.50 530.50 597.50 531.50 598.50 531.50 599.50 526.50 600.50 531.50 600.50 527.50 601.50 530.50 602.50 530.50 603.50 531.50 604.50 531.50 605.50 530.50 606.50 531.50 607.50 527.50 608.50 531.50 608.50 531.50 609.50 527.50 610.50 530.50 611.50 531.50 612.50 531.50 613.50 531.50 614.50 525.50 615.50 531.50 616.50 531.50 616.50 531.50 617.50 531.50 618.50 531.50 619.50 531.50 620.50 529.50 621.50 531.50 622.50 531.50 623.50 531.50 623.50 531.50 624.50 531.50 625.50 531.50 626.50 531.50 627.50 531.50 628.50 531.50 629.50 531.50 630.50 531.50 631.50 531.50 631.50 530.50 632.50 531.50 633.50 527.50 634.50 529.50 635.50 527.50 636.50 531.50 637.50 526.50 638.50 531.50 639.50 531.50 639.50 528.50 640.50 531.50 641.50 529.50 642.50 531.50 643.50 531.50 644.50 531.50 645.50 527.50 646.50 525.50 646.50 531.50 647.50 531.50 648.50 529.50 649.50 531.50 650.50 530.50 651.50 531.50 652.50 527.50 653.50 531.50 654.50 528.50 654.50 530.50 655.50 527.50 656.50 531.50 657.50 531.50 658.50 531.50 659.50 531.50 660.50 531.50 661.50 530.50 662.50 531.50 662.50 528.50 663.50 530.50 664.50 529.50 665.50 531.50 666.50 531.50 667.50 529.50 668.50 526.50 669.50 531.50 670.50 530.50 670.50 528.50 671.50 528.50 672.50 531.50 673.50 531.50 674.50 525.50 675.50 525.50 676.50 531.50 677.50 531.50 677.50 531.50 678.50 531.50 679.50 531.50 680.50 531.50 681.50 531.50 682.50 530.50 683.50 531.50 684.50 531.50 685.50 531.50 685.50 531.50 686.50 531.50 687.50 531.50 688.50 531.50 689.50 531.50 690.50 531.50 691.50 531.50 692.50 529.50 693.50 531.50 693.50 531.50 694.50 531.50 695.50 531.50 696.50 529.50 697.50 525.50 698.50 529.50 699.50 531.50 700.50 525.50 701.50 531.50 701.50 527.50 702.50 531.50 703.50 525.50 704.50 531.50 705.50 531.50 706.50 531.50 707.50 531.50 708.50 525.50 708.50 528.50 709.50 527.50 710.50 531.50 711.50 527.50 712.50 531.50 713.50 531.50 714.50 531.50 715.50 530.50 716.50 531.50 716.50 531.50 717.50 531.50 718.50 531.50 719.50 526.50 720.50 531.50 721.50 531.50 722.50 527.50 723.50 531.50 724.50 526.50 724.50 531.50 725.50 531.50 726.50 524.50 727.50 527.50 728.50 531.50 729.50 531.50 730.50 531.50 731.50 531.50 732.50 525.50 732.50 531.50 733.50 531.50 734.50 531.50 735.50 531.50 736.50 524.50 737.50 526.50 738.50 529.50 739.50 528.50 739.50 531.50 740.50 531.50 741.50 531.50 742.50 530.50 743.50 531.50 744.50 526.50 745.50 531.50 746.50 529.50 747.50 530.50 747.50 527.50 748.50 531.50 749.50 529.50 750.50 525.50 751.50 531.50 752.50 531.50 753.50 531.50 754.50 531.50 755.50 531.50 755.50 531.50 756.50 530.50 757.50 528.50 758.50 531.50 759.50 531.50 760.50 531.50 761.50 531.50 762.50 531.50 762.50 528.50 763.50 527.50 764.50 531.50 765.50 531.50 766.50 531.50 767.50 529.50 768.50 531.50 769.50 531.50 770.50 531.50 770.50 531.50 771.50 531.50 772.50 531.50 773.50 531.50 774.50 531.50 775.50 531.50 776.50 526.50 777.50 526.50 778.50 531.50 778.50 530.50 779.50 531.50 780.50 531.50 781.50 531.50 782.50 527.50 783.50 529.50 784.50 531.50 785.50 531.50 786.50 531.50 786.50 531.50 787.50 528.50 788.50 531.50 789.50 526.50 790.50 531.50 791.50 530.50 792.50 531.50 793.50 530.50 793.50 531.50 794.50 525.50 795.50 530.50 796.50 529.50 797.50 528.50 798.50 531.50 799.50 530.50 800.50 528.50 801.50 531.50 801.50 529.50 802.50 524.50 803.50 530.50 804.50 530.50 805.50 527.50 806.50 527.50 807.50 531.50 808.50 531.50 809.50 530.50 809.50 531.50 810.50 531.50 811.50 524.50 812.50 531.50 813.50 531.50 814.50 531.50 815.50 531.50 816.50 528.50 816.50 531.50 817.50 531.50 818.50 526.50 819.50 531.50 820.50 530.50 821.50 531.50 822.50 529.50 823.50 531.50 824.50 530.50 824.50 530.50 825.50 531.50 826.50 526.50 827.50 531.50 828.50 531.50 829.50 531.50 830.50 530.50 831.50 527.50 832.50 531.50 832.50 527.50 833.50 531.50 834.50 531.50 835.50 527.50 836.50 531.50 837.50 531.50 838.50 531.50 839.50 530.50 840.50 526.50 840.50 531.50 841.50 530.50 842.50 527.50 843.50 531.50 844.50 531.50 845.50 531.50 846.50 531.50 847.50 531.50 847.50 531.50 848.50 530.50 849.50 524.50 850.50 525.50 851.50 531.50 852.50 531.50 853.50 531.50 854.50 531.50 855.50 531.50 855.50 528.50 856.50 529.50 857.50 531.50 858.50 531.50 859.50 531.50 860.50 531.50 861.50 531.50 862.50 531.50 863.50 527.50 863.50 526.50 864.50 530.50 865.50 525.50 866.50 531.50 867.50 528.50 868.50 531.50 869.50 531.50 870.50 531.50 871.50 531.50 871.50 531.50 872.50 531.50 873.50 531.50 874.50 531.50 875.50 531.50 876.50 529.50 877.50 530.50 878.50 530.50 878.50 531.50 879.50 529.50 880.50 531.50 881.50 530.50 882.50 531.50 883.50 531.50 884.50 530.50 885.50 523.50 886.50 525.50 886.50 531.50 887.50 531.50 888.50 531.50 889.50 526.50 890.50 528.50 891.50 520.50 892.50 531.50 893.50 531.50 894.50 526.50 894.50 531.50 895.50 531.50 896.50 529.50 897.50 531.50 898.50 531.50 899.50 528.50 900.50 525.50 901.50 531.50 902.50 528.50 902.50 531.50 903.50 531.50 904.50 527.50 905.50 531.50 906.50 531.50 907.50 531.50 908.50 531.50 909.50 528.50 909.50 531.50 910.50 530.50 911.50 530.50 912.50 527.50 913.50 531.50 914.50 531.50 915.50 531.50 916.50 530.50 917.50 531.50 917.50 531.50 918.50 531.50 919.50 528.50 920.50 531.50 921.50 531.50 922.50 531.50 923.50 525.50 924.50 529.50 925.50 530.50 925.50 531.50 926.50 531.50 927.50 531.50 928.50 530.50 929.50 525.50 930.50 531.50 931.50 528.50 932.50 531.50 932.50 531.50 933.50 531.50 934.50 531.50 935.50 531.50 936.50 531.50 937.50 531.50 938.50 531.50 939.50 525.50 940.50 528.50 940.50 531.50 941.50 528.50 942.50 531.50 943.50 518.50 944.50 531.50 945.50 531.50 946.50 529.50 947.50 527.50 948.50 531.50 948.50 531.50 949.50 531.50 950.50 531.50 951.50 529.50 952.50 529.50 953.50 531.50 954.50 525.50 955.50 527.50 956.50 531.50 956.50 531.50 957.50 529.50 958.50 524.50 959.50 530.50 960.50 525.50 961.50 531.50 962.50 531.50 963.50 531.50 963.50 526.50 964.50 531.50 965.50 527.50 966.50 531.50 967.50 527.50 968.50 528.50 969.50 528.50 970.50 530.50 971.50 531.50 971.50 531.50 972.50 531.50 973.50 530.50 974.50 531.50 975.50 531.50 976.50 527.50 977.50 531.50 978.50 530.50 979.50 531.50 979.50 531.50 980.50 531.50 981.50 531.50 982.50 530.50 983.50 531.50 984.50 531.50 985.50 531.50 986.50 531.50 986.50 528.50 987.50 531.50 988.50 530.50 989.50 528.50 990.50 531.50 991.50 531.50 992.50 531.50 993.50 529.50 994.50 531.50 994.50 531.50 995.50 528.50 996.50 527.50 997.50 528.50 998.50 531.50 999.50 514.50 1000.50 531.50 1001.50 531.50 1002.50 528.50 1002.50 528.50 1003.50 528.50 1004.50 525.50 1005.50 525.50 1006.50 530.50 1007.50 531.50 1008.50 531.50 1009.50 525.50 1010.50 528.50 1010.50 531.50 1011.50 530.50 1012.50 531.50 1013.50 531.50 1014.50 528.50 1015.50 531.50 1016.50 531.50 1017.50 531.50 1017.50 528.50 1018.50 528.50 1019.50 531.50 1020.50 531.50 1021.50 530.50 1022.50 520.50 1023.50 531.50 1024.50 531.50 1025.50 531.50 1025.50 531.50 1026.50 528.50 1027.50 528.50 1028.50 531.50 1029.50 529.50 1030.50 531.50 1031.50 531.50 1032.50 531.50 1033.50 526.50 1033.50 531.50 1034.50 528.50 1035.50 530.50 1036.50 525.50 1037.50 526.50 1038.50 531.50 1039.50 531.50 1040.50 530.50 1041.50 531.50 1041.50 531.50 1042.50 531.50 1043.50 531.50 1044.50 531.50 1045.50 530.50 1046.50 529.50 1047.50 531.50 1048.50 531.50 1048.50 531.50 1049.50 527.50 1050.50 526.50 1051.50 531.50 1052.50 531.50 1053.50 531.50 1054.50 525.50 1055.50 526.50 1056.50 531.50 1056.50 526.50 1057.50 531.50 1058.50 531.50 1059.50 531.50 1060.50 525.50 1061.50 527.50 1062.50 529.50 1063.50 531.50 1064.50 531.50 1064.50 531.50 1065.50 531.50 1066.50 530.50 1067.50 531.50 1068.50 531.50 1069.50 531.50 1070.50 531.50 1071.50 531.50 1072.50 531.50 1072.50 531.50 1073.50 530.50 1074.50 531.50 1075.50 531.50 1076.50 531.50 1077.50 531.50 1078.50 530.50 1079.50 531.50 1079.50 527.50 1080.50 531.50 1081.50 529.50 1082.50 526.50 1083.50 531.50 1084.50 531.50 1085.50 529.50 1086.50 531.50 1087.50 530.50 1087.50 531.50 1088.50 530.50 1089.50 525.50 1090.50 531.50 1091.50 531.50 1092.50 527.50 1093.50 531.50 1094.50 528.50 1095.50 531.50 1095.50 530.50 1096.50 531.50 1097.50 526.50 1098.50 524.50 1099.50 531.50 1100.50 521.50 1101.50 531.50 1102.50 531.50 1102.50 529.50 1103.50 531.50 1104.50 528.50 1105.50 531.50 1106.50 530.50 1107.50 531.50 1108.50 531.50 1109.50 530.50 1110.50 525.50 1110.50 527.50 1111.50 530.50 1112.50 531.50 1113.50 531.50 1114.50 528.50 1115.50 530.50 1116.50 528.50 1117.50 529.50 1118.50 531.50 1118.50 530.50 1119.50 531.50 1120.50 531.50 1121.50 527.50 1122.50 531.50 1123.50 531.50 1124.50 530.50 1125.50 531.50 1126.50 530.50 1126.50 530.50 1127.50 530.50 1128.50 531.50 1129.50 531.50 1130.50 531.50 1131.50 531.50 1132.50 530.50 1133.50 531.50 1133.50 530.50 1134.50 531.50 1135.50 527.50 1136.50 531.50 1137.50 531.50 1138.50 530.50 1139.50 531.50 1140.50 530.50 1141.50 531.50 1141.50 530.50 1142.50 531.50 1143.50 525.50 1144.50 531.50 1145.50 526.50 1146.50 531.50 1147.50 528.50 1148.50 531.50 1149.50 531.50 1149.50 531.50 1150.50 531.50 1151.50 531.50 1152.50 531.50 1153.50 530.50 1154.50 531.50 1155.50 531.50 1156.50 526.50 1156.50 531.50 1157.50 531.50 1158.50 531.50 1159.50 529.50 1160.50 527.50 1161.50 531.50 1162.50 528.50 1163.50 531.50 1164.50 530.50 1164.50 531.50 1165.50 530.50 1166.50 531.50 1167.50 531.50 1168.50 531.50 1169.50 531.50 1170.50 531.50 1171.50 531.50 1172.50 527.50 1172.50 531.50 1173.50 528.50 1174.50 530.50 1175.50 528.50 1176.50 527.50 1177.50 531.50 1178.50 528.50 1179.50 531.50 1180.50 531.50 1180.50 530.50 1181.50 530.50 1182.50 525.50 1183.50 529.50 1184.50 531.50 1185.50 530.50 1186.50 529.50 1187.50 531.50 1187.50 530.50 1188.50 531.50 1189.50 530.50 1190.50 528.50 1191.50 526.50 1192.50 531.50 1193.50 531.50 1194.50 531.50 1195.50 531.50 1195.50 531.50 1196.50 530.50 1197.50 531.50 1198.50 531.50 1199.50 530.50 1200.50 529.50 1201.50 530.50 1202.50 531.50 1203.50 531.50 1203.50 531.50 1204.50 531.50 1205.50 524.50 1206.50 531.50 1207.50 531.50 1208.50 531.50 1209.50 531.50 1210.50 530.50 1211.50 531.50 1211.50 531.50 1212.50 531.50 1213.50 531.50 1214.50 531.50 1215.50 531.50 1216.50 531.50 1217.50 531.50 1218.50 526.50 1218.50 531.50 1219.50 531.50 1220.50 527.50 1221.50 528.50 1222.50 531.50 1223.50 530.50 1224.50 531.50 1225.50 530.50 1226.50 531.50 1226.50 531.50 1227.50 531.50 1228.50 531.50 1229.50 527.50 1230.50 527.50 1231.50 531.50 1232.50 525.50 1233.50 531.50 1234.50 531.50 1234.50 531.50 1235.50 531.50 1236.50 531.50 1237.50 528.50 1238.50 525.50 1239.50 527.50 1240.50 530.50 1241.50 525.50 1242.50 527.50 1242.50 530.50 1243.50 531.50 1244.50 531.50 1245.50 530.50 1246.50 531.50 1247.50 531.50 1248.50 527.50 1249.50 528.50 1249.50 531.50 1250.50 530.50 1251.50 531.50 1252.50 531.50 1253.50 530.50 1254.50 531.50 1255.50 528.50 1256.50 531.50 1257.50 531.50 1257.50 531.50 1258.50 527.50 1259.50 531.50 1260.50 531.50 1261.50 530.50 1262.50 526.50 1263.50 531.50 1264.50 531.50 1265.50 526.50 1265.50 530.50 1266.50 531.50 1267.50 531.50 1268.50 530.50 1269.50 531.50 1270.50 530.50 1271.50 531.50 1272.50 525.50 1272.50 531.50 1273.50 531.50 1274.50 531.50 1275.50 531.50 1276.50 525.50 1277.50 526.50 1278.50 531.50 1279.50 529.50 1280.50 526.50 1280.50 526.50 1281.50 531.50 1282.50 531.50 1283.50 531.50 1284.50 531.50 1285.50 531.50 1286.50 531.50 1287.50 530.50 1288.50 531.50 1288.50 525.50 1289.50 525.50 1290.50 531.50 1291.50 531.50 1292.50 527.50 1293.50 531.50 1294.50 531.50 1295.50 527.50 1296.50 531.50 1296.50 531.50 1297.50 524.50 1298.50 531.50 1299.50 531.50 1300.50 531.50 1301.50 529.50 1302.50 531.50 1303.50 528.50 1303.50 525.50 1304.50 530.50 1305.50 530.50 1306.50 530.50 1307.50 531.50 1308.50 531.50 1309.50 525.50 1310.50 528.50 1311.50 528.50 1311.50 531.50 1312.50 531.50 1313.50 531.50 1314.50 531.50 1315.50 528.50 1316.50 527.50 1317.50 529.50 1318.50 531.50 1319.50 530.50 1319.50 531.50 1320.50 531.50 1321.50 530.50 1322.50 531.50 1323.50 531.50 1324.50 531.50 1325.50 528.50 1326.50 530.50 1326.50 524.50 1327.50 531.50 1328.50 531.50 1329.50 531.50 1330.50 528.50 1331.50 531.50 1332.50 531.50 1333.50 528.50 1334.50 531.50 1334.50 531.50 1335.50 531.50 1336.50 531.50 1337.50 530.50 1338.50 531.50 1339.50 524.50 1340.50 531.50 1341.50 531.50 1342.50 531.50 1342.50 528.50 1343.50 531.50 1344.50 531.50 1345.50 531.50 1346.50 531.50 1347.50 531.50 1348.50 530.50 1349.50 530.50 1350.50 529.50 1350.50 528.50 1351.50 531.50 1352.50 530.50 1353.50 530.50 1354.50 531.50 1355.50 531.50 1356.50 531.50 1357.50 526.50 1357.50 525.50 1358.50 530.50 1359.50 531.50 1360.50 531.50 1361.50 531.50 1362.50 530.50 1363.50 531.50 1364.50 531.50 1365.50 531.50 1365.50 527.50 1366.50 531.50 1367.50 531.50 1368.50 529.50" fill="none" stroke="#56b4e9" stroke-width="1" shape-rendering="crispEdges"/>
<path d="M146.5 535.5H201.5M147.5 535.5L202.5 526.5" stroke="#009e73" stroke-width="1" fill="none" shape-rendering="crispEdges"/>
<path d="M146 530.5H203" stroke="#56b4e9" stroke-width="1" fill="none" shape-rendering="crispEdges"/>
</g>
<polygon points="86,350 156.5,350 148.5,363 94.5,363" fill="#e69f00" shape-rendering="crispEdges"/>
<path d="M153 351.5L146.8 360.5" stroke="#fff" stroke-width="1" shape-rendering="crispEdges"/>
<polygon points="192.5,350 1377.5,350 1369,363 201,363" fill="#e69f00" shape-rendering="crispEdges"/>
<path d="M376.5 304V532M375.5 420V532" stroke="#9400d3" stroke-width="1" shape-rendering="crispEdges"/>
<path d="M638.5 304V420M637.5 420V533M639.5 420V533M645.5 304V420M644.5 420V533M646.5 420V533" stroke="#9400d3" stroke-width="1" shape-rendering="crispEdges"/>
<path d="M1070.5 535V433" stroke="#009e73" stroke-width="1" shape-rendering="crispEdges"/>
<path transform="translate(96,505)" d="M0 -6h1v1h-1zM-3 -5h7v1h-7zM-4 -4h2v1h-2zM3 -4h2v1h-2zM-5 -3h2v1h-2zM4 -3h2v1h-2zM-5 -2h1v1h-1zM5 -2h1v1h-1zM-5 -1h1v1h-1zM5 -1h1v1h-1zM-6 0h2v1h-2zM5 0h2v1h-2zM-5 1h1v1h-1zM5 1h1v1h-1zM-5 2h1v1h-1zM5 2h1v1h-1zM-5 3h2v1h-2zM4 3h2v1h-2zM-4 4h2v1h-2zM3 4h2v1h-2zM-3 5h7v1h-7zM0 6h1v1h-1z" fill="#0072b2" shape-rendering="crispEdges"/>
<path transform="translate(143,507)" d="M0 -6h1v1h-1zM-3 -5h7v1h-7zM-4 -4h2v1h-2zM3 -4h2v1h-2zM-5 -3h2v1h-2zM4 -3h2v1h-2zM-5 -2h1v1h-1zM5 -2h1v1h-1zM-5 -1h1v1h-1zM5 -1h1v1h-1zM-6 0h2v1h-2zM5 0h2v1h-2zM-5 1h1v1h-1zM5 1h1v1h-1zM-5 2h1v1h-1zM5 2h1v1h-1zM-5 3h2v1h-2zM4 3h2v1h-2zM-4 4h2v1h-2zM3 4h2v1h-2zM-3 5h7v1h-7zM0 6h1v1h-1z" fill="#0072b2" shape-rendering="crispEdges"/>
<path transform="translate(202,498)" d="M0 -6h1v1h-1zM-3 -5h7v1h-7zM-4 -4h2v1h-2zM3 -4h2v1h-2zM-5 -3h2v1h-2zM4 -3h2v1h-2zM-5 -2h1v1h-1zM5 -2h1v1h-1zM-5 -1h1v1h-1zM5 -1h1v1h-1zM-6 0h2v1h-2zM5 0h2v1h-2zM-5 1h1v1h-1zM5 1h1v1h-1zM-5 2h1v1h-1zM5 2h1v1h-1zM-5 3h2v1h-2zM4 3h2v1h-2zM-4 4h2v1h-2zM3 4h2v1h-2zM-3 5h7v1h-7zM0 6h1v1h-1z" fill="#0072b2" shape-rendering="crispEdges"/>
<path transform="translate(249,498)" d="M0 -6h1v1h-1zM-3 -5h7v1h-7zM-4 -4h2v1h-2zM3 -4h2v1h-2zM-5 -3h2v1h-2zM4 -3h2v1h-2zM-5 -2h1v1h-1zM5 -2h1v1h-1zM-5 -1h1v1h-1zM5 -1h1v1h-1zM-6 0h2v1h-2zM5 0h2v1h-2zM-5 1h1v1h-1zM5 1h1v1h-1zM-5 2h1v1h-1zM5 2h1v1h-1zM-5 3h2v1h-2zM4 3h2v1h-2zM-4 4h2v1h-2zM3 4h2v1h-2zM-3 5h7v1h-7zM0 6h1v1h-1z" fill="#0072b2" shape-rendering="crispEdges"/>
<path transform="translate(255,504)" d="M0 -6h1v1h-1zM-3 -5h7v1h-7zM-4 -4h2v1h-2zM3 -4h2v1h-2zM-5 -3h2v1h-2zM4 -3h2v1h-2zM-5 -2h1v1h-1zM5 -2h1v1h-1zM-5 -1h1v1h-1zM5 -1h1v1h-1zM-6 0h2v1h-2zM5 0h2v1h-2zM-5 1h1v1h-1zM5 1h1v1h-1zM-5 2h1v1h-1zM5 2h1v1h-1zM-5 3h2v1h-2zM4 3h2v1h-2zM-4 4h2v1h-2zM3 4h2v1h-2zM-3 5h7v1h-7zM0 6h1v1h-1z" fill="#0072b2" shape-rendering="crispEdges"/>
<path transform="translate(303,498)" d="M0 -6h1v1h-1zM-3 -5h7v1h-7zM-4 -4h2v1h-2zM3 -4h2v1h-2zM-5 -3h2v1h-2zM4 -3h2v1h-2zM-5 -2h1v1h-1zM5 -2h1v1h-1zM-5 -1h1v1h-1zM5 -1h1v1h-1zM-6 0h2v1h-2zM5 0h2v1h-2zM-5 1h1v1h-1zM5 1h1v1h-1zM-5 2h1v1h-1zM5 2h1v1h-1zM-5 3h2v1h-2zM4 3h2v1h-2zM-4 4h2v1h-2zM3 4h2v1h-2zM-3 5h7v1h-7zM0 6h1v1h-1z" fill="#0072b2" shape-rendering="crispEdges"/>
<path transform="translate(308,505)" d="M0 -6h1v1h-1zM-3 -5h7v1h-7zM-4 -4h2v1h-2zM3 -4h2v1h-2zM-5 -3h2v1h-2zM4 -3h2v1h-2zM-5 -2h1v1h-1zM5 -2h1v1h-1zM-5 -1h1v1h-1zM5 -1h1v1h-1zM-6 0h2v1h-2zM5 0h2v1h-2zM-5 1h1v1h-1zM5 1h1v1h-1zM-5 2h1v1h-1zM5 2h1v1h-1zM-5 3h2v1h-2zM4 3h2v1h-2zM-4 4h2v1h-2zM3 4h2v1h-2zM-3 5h7v1h-7zM0 6h1v1h-1z" fill="#0072b2" shape-rendering="crispEdges"/>
<path transform="translate(355,497)" d="M0 -6h1v1h-1zM-3 -5h7v1h-7zM-4 -4h2v1h-2zM3 -4h2v1h-2zM-5 -3h2v1h-2zM4 -3h2v1h-2zM-5 -2h1v1h-1zM5 -2h1v1h-1zM-5 -1h1v1h-1zM5 -1h1v1h-1zM-6 0h2v1h-2zM5 0h2v1h-2zM-5 1h1v1h-1zM5 1h1v1h-1zM-5 2h1v1h-1zM5 2h1v1h-1zM-5 3h2v1h-2zM4 3h2v1h-2zM-4 4h2v1h-2zM3 4h2v1h-2zM-3 5h7v1h-7zM0 6h1v1h-1z" fill="#0072b2" shape-rendering="crispEdges"/>
<path transform="translate(361,497)" d="M0 -6h1v1h-1zM-3 -5h7v1h-7zM-4 -4h2v1h-2zM3 -4h2v1h-2zM-5 -3h2v1h-2zM4 -3h2v1h-2zM-5 -2h1v1h-1zM5 -2h1v1h-1zM-5 -1h1v1h-1zM5 -1h1v1h-1zM-6 0h2v1h-2zM5 0h2v1h-2zM-5 1h1v1h-1zM5 1h1v1h-1zM-5 2h1v1h-1zM5 2h1v1h-1zM-5 3h2v1h-2zM4 3h2v1h-2zM-4 4h2v1h-2zM3 4h2v1h-2zM-3 5h7v1h-7zM0 6h1v1h-1z" fill="#0072b2" shape-rendering="crispEdges"/>
<path transform="translate(408,498)" d="M0 -6h1v1h-1zM-3 -5h7v1h-7zM-4 -4h2v1h-2zM3 -4h2v1h-2zM-5 -3h2v1h-2zM4 -3h2v1h-2zM-5 -2h1v1h-1zM5 -2h1v1h-1zM-5 -1h1v1h-1zM5 -1h1v1h-1zM-6 0h2v1h-2zM5 0h2v1h-2zM-5 1h1v1h-1zM5 1h1v1h-1zM-5 2h1v1h-1zM5 2h1v1h-1zM-5 3h2v1h-2zM4 3h2v1h-2zM-4 4h2v1h-2zM3 4h2v1h-2zM-3 5h7v1h-7zM0 6h1v1h-1z" fill="#0072b2" shape-rendering="crispEdges"/>
<path transform="translate(415,507)" d="M0 -6h1v1h-1zM-3 -5h7v1h-7zM-4 -4h2v1h-2zM3 -4h2v1h-2zM-5 -3h2v1h-2zM4 -3h2v1h-2zM-5 -2h1v1h-1zM5 -2h1v1h-1zM-5 -1h1v1h-1zM5 -1h1v1h-1zM-6 0h2v1h-2zM5 0h2v1h-2zM-5 1h1v1h-1zM5 1h1v1h-1zM-5 2h1v1h-1zM5 2h1v1h-1zM-5 3h2v1h-2zM4 3h2v1h-2zM-4 4h2v1h-2zM3 4h2v1h-2zM-3 5h7v1h-7zM0 6h1v1h-1z" fill="#0072b2" shape-rendering="crispEdges"/>
<path transform="translate(461,504)" d="M0 -6h1v1h-1zM-3 -5h7v1h-7zM-4 -4h2v1h-2zM3 -4h2v1h-2zM-5 -3h2v1h-2zM4 -3h2v1h-2zM-5 -2h1v1h-1zM5 -2h1v1h-1zM-5 -1h1v1h-1zM5 -1h1v1h-1zM-6 0h2v1h-2zM5 0h2v1h-2zM-5 1h1v1h-1zM5 1h1v1h-1zM-5 2h1v1h-1zM5 2h1v1h-1zM-5 3h2v1h-2zM4 3h2v1h-2zM-4 4h2v1h-2zM3 4h2v1h-2zM-3 5h7v1h-7zM0 6h1v1h-1z" fill="#0072b2" shape-rendering="crispEdges"/>
<path transform="translate(468,497)" d="M0 -6h1v1h-1zM-3 -5h7v1h-7zM-4 -4h2v1h-2zM3 -4h2v1h-2zM-5 -3h2v1h-2zM4 -3h2v1h-2zM-5 -2h1v1h-1zM5 -2h1v1h-1zM-5 -1h1v1h-1zM5 -1h1v1h-1zM-6 0h2v1h-2zM5 0h2v1h-2zM-5 1h1v1h-1zM5 1h1v1h-1zM-5 2h1v1h-1zM5 2h1v1h-1zM-5 3h2v1h-2zM4 3h2v1h-2zM-4 4h2v1h-2zM3 4h2v1h-2zM-3 5h7v1h-7zM0 6h1v1h-1z" fill="#0072b2" shape-rendering="crispEdges"/>
<path transform="translate(515,505)" d="M0 -6h1v1h-1zM-3 -5h7v1h-7zM-4 -4h2v1h-2zM3 -4h2v1h-2zM-5 -3h2v1h-2zM4 -3h2v1h-2zM-5 -2h1v1h-1zM5 -2h1v1h-1zM-5 -1h1v1h-1zM5 -1h1v1h-1zM-6 0h2v1h-2zM5 0h2v1h-2zM-5 1h1v1h-1zM5 1h1v1h-1zM-5 2h1v1h-1zM5 2h1v1h-1zM-5 3h2v1h-2zM4 3h2v1h-2zM-4 4h2v1h-2zM3 4h2v1h-2zM-3 5h7v1h-7zM0 6h1v1h-1z" fill="#0072b2" shape-rendering="crispEdges"/>
<path transform="translate(521,496)" d="M0 -6h1v1h-1zM-3 -5h7v1h-7zM-4 -4h2v1h-2zM3 -4h2v1h-2zM-5 -3h2v1h-2zM4 -3h2v1h-2zM-5 -2h1v1h-1zM5 -2h1v1h-1zM-5 -1h1v1h-1zM5 -1h1v1h-1zM-6 0h2v1h-2zM5 0h2v1h-2zM-5 1h1v1h-1zM5 1h1v1h-1zM-5 2h1v1h-1zM5 2h1v1h-1zM-5 3h2v1h-2zM4 3h2v1h-2zM-4 4h2v1h-2zM3 4h2v1h-2zM-3 5h7v1h-7zM0 6h1v1h-1z" fill="#0072b2" shape-rendering="crispEdges"/>
<path transform="translate(568,451)" d="M0 -6h1v1h-1zM-3 -5h7v1h-7zM-4 -4h2v1h-2zM3 -4h2v1h-2zM-5 -3h2v1h-2zM4 -3h2v1h-2zM-5 -2h1v1h-1zM5 -2h1v1h-1zM-5 -1h1v1h-1zM5 -1h1v1h-1zM-6 0h2v1h-2zM5 0h2v1h-2zM-5 1h1v1h-1zM5 1h1v1h-1zM-5 2h1v1h-1zM5 2h1v1h-1zM-5 3h2v1h-2zM4 3h2v1h-2zM-4 4h2v1h-2zM3 4h2v1h-2zM-3 5h7v1h-7zM0 6h1v1h-1z" fill="#0072b2" shape-rendering="crispEdges"/>
<path transform="translate(574,464)" d="M0 -6h1v1h-1zM-3 -5h7v1h-7zM-4 -4h2v1h-2zM3 -4h2v1h-2zM-5 -3h2v1h-2zM4 -3h2v1h-2zM-5 -2h1v1h-1zM5 -2h1v1h-1zM-5 -1h1v1h-1zM5 -1h1v1h-1zM-6 0h2v1h-2zM5 0h2v1h-2zM-5 1h1v1h-1zM5 1h1v1h-1zM-5 2h1v1h-1zM5 2h1v1h-1zM-5 3h2v1h-2zM4 3h2v1h-2zM-4 4h2v1h-2zM3 4h2v1h-2zM-3 5h7v1h-7zM0 6h1v1h-1z" fill="#0072b2" shape-rendering="crispEdges"/>
<path transform="translate(621,505)" d="M0 -6h1v1h-1zM-3 -5h7v1h-7zM-4 -4h2v1h-2zM3 -4h2v1h-2zM-5 -3h2v1h-2zM4 -3h2v1h-2zM-5 -2h1v1h-1zM5 -2h1v1h-1zM-5 -1h1v1h-1zM5 -1h1v1h-1zM-6 0h2v1h-2zM5 0h2v1h-2zM-5 1h1v1h-1zM5 1h1v1h-1zM-5 2h1v1h-1zM5 2h1v1h-1zM-5 3h2v1h-2zM4 3h2v1h-2zM-4 4h2v1h-2zM3 4h2v1h-2zM-3 5h7v1h-7zM0 6h1v1h-1z" fill="#0072b2" shape-rendering="crispEdges"/>
<path transform="translate(627,495)" d="M0 -6h1v1h-1zM-3 -5h7v1h-7zM-4 -4h2v1h-2zM3 -4h2v1h-2zM-5 -3h2v1h-2zM4 -3h2v1h-2zM-5 -2h1v1h-1zM5 -2h1v1h-1zM-5 -1h1v1h-1zM5 -1h1v1h-1zM-6 0h2v1h-2zM5 0h2v1h-2zM-5 1h1v1h-1zM5 1h1v1h-1zM-5 2h1v1h-1zM5 2h1v1h-1zM-5 3h2v1h-2zM4 3h2v1h-2zM-4 4h2v1h-2zM3 4h2v1h-2zM-3 5h7v1h-7zM0 6h1v1h-1z" fill="#0072b2" shape-rendering="crispEdges"/>
<path transform="translate(674,500)" d="M0 -6h1v1h-1zM-3 -5h7v1h-7zM-4 -4h2v1h-2zM3 -4h2v1h-2zM-5 -3h2v1h-2zM4 -3h2v1h-2zM-5 -2h1v1h-1zM5 -2h1v1h-1zM-5 -1h1v1h-1zM5 -1h1v1h-1zM-6 0h2v1h-2zM5 0h2v1h-2zM-5 1h1v1h-1zM5 1h1v1h-1zM-5 2h1v1h-1zM5 2h1v1h-1zM-5 3h2v1h-2zM4 3h2v1h-2zM-4 4h2v1h-2zM3 4h2v1h-2zM-3 5h7v1h-7zM0 6h1v1h-1z" fill="#0072b2" shape-rendering="crispEdges"/>
<path transform="translate(680,504)" d="M0 -6h1v1h-1zM-3 -5h7v1h-7zM-4 -4h2v1h-2zM3 -4h2v1h-2zM-5 -3h2v1h-2zM4 -3h2v1h-2zM-5 -2h1v1h-1zM5 -2h1v1h-1zM-5 -1h1v1h-1zM5 -1h1v1h-1zM-6 0h2v1h-2zM5 0h2v1h-2zM-5 1h1v1h-1zM5 1h1v1h-1zM-5 2h1v1h-1zM5 2h1v1h-1zM-5 3h2v1h-2zM4 3h2v1h-2zM-4 4h2v1h-2zM3 4h2v1h-2zM-3 5h7v1h-7zM0 6h1v1h-1z" fill="#0072b2" shape-rendering="crispEdges"/>
<path transform="translate(727,502)" d="M0 -6h1v1h-1zM-3 -5h7v1h-7zM-4 -4h2v1h-2zM3 -4h2v1h-2zM-5 -3h2v1h-2zM4 -3h2v1h-2zM-5 -2h1v1h-1zM5 -2h1v1h-1zM-5 -1h1v1h-1zM5 -1h1v1h-1zM-6 0h2v1h-2zM5 0h2v1h-2zM-5 1h1v1h-1zM5 1h1v1h-1zM-5 2h1v1h-1zM5 2h1v1h-1zM-5 3h2v1h-2zM4 3h2v1h-2zM-4 4h2v1h-2zM3 4h2v1h-2zM-3 5h7v1h-7zM0 6h1v1h-1z" fill="#0072b2" shape-rendering="crispEdges"/>
<path transform="translate(733,494)" d="M0 -6h1v1h-1zM-3 -5h7v1h-7zM-4 -4h2v1h-2zM3 -4h2v1h-2zM-5 -3h2v1h-2zM4 -3h2v1h-2zM-5 -2h1v1h-1zM5 -2h1v1h-1zM-5 -1h1v1h-1zM5 -1h1v1h-1zM-6 0h2v1h-2zM5 0h2v1h-2zM-5 1h1v1h-1zM5 1h1v1h-1zM-5 2h1v1h-1zM5 2h1v1h-1zM-5 3h2v1h-2zM4 3h2v1h-2zM-4 4h2v1h-2zM3 4h2v1h-2zM-3 5h7v1h-7zM0 6h1v1h-1z" fill="#0072b2" shape-rendering="crispEdges"/>
<path transform="translate(780,503)" d="M0 -6h1v1h-1zM-3 -5h7v1h-7zM-4 -4h2v1h-2zM3 -4h2v1h-2zM-5 -3h2v1h-2zM4 -3h2v1h-2zM-5 -2h1v1h-1zM5 -2h1v1h-1zM-5 -1h1v1h-1zM5 -1h1v1h-1zM-6 0h2v1h-2zM5 0h2v1h-2zM-5 1h1v1h-1zM5 1h1v1h-1zM-5 2h1v1h-1zM5 2h1v1h-1zM-5 3h2v1h-2zM4 3h2v1h-2zM-4 4h2v1h-2zM3 4h2v1h-2zM-3 5h7v1h-7zM0 6h1v1h-1z" fill="#0072b2" shape-rendering="crispEdges"/>
<path transform="translate(786,494)" d="M0 -6h1v1h-1zM-3 -5h7v1h-7zM-4 -4h2v1h-2zM3 -4h2v1h-2zM-5 -3h2v1h-2zM4 -3h2v1h-2zM-5 -2h1v1h-1zM5 -2h1v1h-1zM-5 -1h1v1h-1zM5 -1h1v1h-1zM-6 0h2v1h-2zM5 0h2v1h-2zM-5 1h1v1h-1zM5 1h1v1h-1zM-5 2h1v1h-1zM5 2h1v1h-1zM-5 3h2v1h-2zM4 3h2v1h-2zM-4 4h2v1h-2zM3 4h2v1h-2zM-3 5h7v1h-7zM0 6h1v1h-1z" fill="#0072b2" shape-rendering="crispEdges"/>
<path transform="translate(833,503)" d="M0 -6h1v1h-1zM-3 -5h7v1h-7zM-4 -4h2v1h-2zM3 -4h2v1h-2zM-5 -3h2v1h-2zM4 -3h2v1h-2zM-5 -2h1v1h-1zM5 -2h1v1h-1zM-5 -1h1v1h-1zM5 -1h1v1h-1zM-6 0h2v1h-2zM5 0h2v1h-2zM-5 1h1v1h-1zM5 1h1v1h-1zM-5 2h1v1h-1zM5 2h1v1h-1zM-5 3h2v1h-2zM4 3h2v1h-2zM-4 4h2v1h-2zM3 4h2v1h-2zM-3 5h7v1h-7zM0 6h1v1h-1z" fill="#0072b2" shape-rendering="crispEdges"/>
<path transform="translate(840,498)" d="M0 -6h1v1h-1zM-3 -5h7v1h-7zM-4 -4h2v1h-2zM3 -4h2v1h-2zM-5 -3h2v1h-2zM4 -3h2v1h-2zM-5 -2h1v1h-1zM5 -2h1v1h-1zM-5 -1h1v1h-1zM5 -1h1v1h-1zM-6 0h2v1h-2zM5 0h2v1h-2zM-5 1h1v1h-1zM5 1h1v1h-1zM-5 2h1v1h-1zM5 2h1v1h-1zM-5 3h2v1h-2zM4 3h2v1h-2zM-4 4h2v1h-2zM3 4h2v1h-2zM-3 5h7v1h-7zM0 6h1v1h-1z" fill="#0072b2" shape-rendering="crispEdges"/>
<path transform="translate(886,506)" d="M0 -6h1v1h-1zM-3 -5h7v1h-7zM-4 -4h2v1h-2zM3 -4h2v1h-2zM-5 -3h2v1h-2zM4 -3h2v1h-2zM-5 -2h1v1h-1zM5 -2h1v1h-1zM-5 -1h1v1h-1zM5 -1h1v1h-1zM-6 0h2v1h-2zM5 0h2v1h-2zM-5 1h1v1h-1zM5 1h1v1h-1zM-5 2h1v1h-1zM5 2h1v1h-1zM-5 3h2v1h-2zM4 3h2v1h-2zM-4 4h2v1h-2zM3 4h2v1h-2zM-3 5h7v1h-7zM0 6h1v1h-1z" fill="#0072b2" shape-rendering="crispEdges"/>
<path transform="translate(893,505)" d="M0 -6h1v1h-1zM-3 -5h7v1h-7zM-4 -4h2v1h-2zM3 -4h2v1h-2zM-5 -3h2v1h-2zM4 -3h2v1h-2zM-5 -2h1v1h-1zM5 -2h1v1h-1zM-5 -1h1v1h-1zM5 -1h1v1h-1zM-6 0h2v1h-2zM5 0h2v1h-2zM-5 1h1v1h-1zM5 1h1v1h-1zM-5 2h1v1h-1zM5 2h1v1h-1zM-5 3h2v1h-2zM4 3h2v1h-2zM-4 4h2v1h-2zM3 4h2v1h-2zM-3 5h7v1h-7zM0 6h1v1h-1z" fill="#0072b2" shape-rendering="crispEdges"/>
<path transform="translate(940,504)" d="M0 -6h1v1h-1zM-3 -5h7v1h-7zM-4 -4h2v1h-2zM3 -4h2v1h-2zM-5 -3h2v1h-2zM4 -3h2v1h-2zM-5 -2h1v1h-1zM5 -2h1v1h-1zM-5 -1h1v1h-1zM5 -1h1v1h-1zM-6 0h2v1h-2zM5 0h2v1h-2zM-5 1h1v1h-1zM5 1h1v1h-1zM-5 2h1v1h-1zM5 2h1v1h-1zM-5 3h2v1h-2zM4 3h2v1h-2zM-4 4h2v1h-2zM3 4h2v1h-2zM-3 5h7v1h-7zM0 6h1v1h-1z" fill="#0072b2" shape-rendering="crispEdges"/>
<path transform="translate(946,497)" d="M0 -6h1v1h-1zM-3 -5h7v1h-7zM-4 -4h2v1h-2zM3 -4h2v1h-2zM-5 -3h2v1h-2zM4 -3h2v1h-2zM-5 -2h1v1h-1zM5 -2h1v1h-1zM-5 -1h1v1h-1zM5 -1h1v1h-1zM-6 0h2v1h-2zM5 0h2v1h-2zM-5 1h1v1h-1zM5 1h1v1h-1zM-5 2h1v1h-1zM5 2h1v1h-1zM-5 3h2v1h-2zM4 3h2v1h-2zM-4 4h2v1h-2zM3 4h2v1h-2zM-3 5h7v1h-7zM0 6h1v1h-1z" fill="#0072b2" shape-rendering="crispEdges"/>
<path transform="translate(993,496)" d="M0 -6h1v1h-1zM-3 -5h7v1h-7zM-4 -4h2v1h-2zM3 -4h2v1h-2zM-5 -3h2v1h-2zM4 -3h2v1h-2zM-5 -2h1v1h-1zM5 -2h1v1h-1zM-5 -1h1v1h-1zM5 -1h1v1h-1zM-6 0h2v1h-2zM5 0h2v1h-2zM-5 1h1v1h-1zM5 1h1v1h-1zM-5 2h1v1h-1zM5 2h1v1h-1zM-5 3h2v1h-2zM4 3h2v1h-2zM-4 4h2v1h-2zM3 4h2v1h-2zM-3 5h7v1h-7zM0 6h1v1h-1z" fill="#0072b2" shape-rendering="crispEdges"/>
<path transform="translate(999,505)" d="M0 -6h1v1h-1zM-3 -5h7v1h-7zM-4 -4h2v1h-2zM3 -4h2v1h-2zM-5 -3h2v1h-2zM4 -3h2v1h-2zM-5 -2h1v1h-1zM5 -2h1v1h-1zM-5 -1h1v1h-1zM5 -1h1v1h-1zM-6 0h2v1h-2zM5 0h2v1h-2zM-5 1h1v1h-1zM5 1h1v1h-1zM-5 2h1v1h-1zM5 2h1v1h-1zM-5 3h2v1h-2zM4 3h2v1h-2zM-4 4h2v1h-2zM3 4h2v1h-2zM-3 5h7v1h-7zM0 6h1v1h-1z" fill="#0072b2" shape-rendering="crispEdges"/>
<path transform="translate(1046,489)" d="M0 -6h1v1h-1zM-3 -5h7v1h-7zM-4 -4h2v1h-2zM3 -4h2v1h-2zM-5 -3h2v1h-2zM4 -3h2v1h-2zM-5 -2h1v1h-1zM5 -2h1v1h-1zM-5 -1h1v1h-1zM5 -1h1v1h-1zM-6 0h2v1h-2zM5 0h2v1h-2zM-5 1h1v1h-1zM5 1h1v1h-1zM-5 2h1v1h-1zM5 2h1v1h-1zM-5 3h2v1h-2zM4 3h2v1h-2zM-4 4h2v1h-2zM3 4h2v1h-2zM-3 5h7v1h-7zM0 6h1v1h-1z" fill="#0072b2" shape-rendering="crispEdges"/>
<path transform="translate(1052,504)" d="M0 -6h1v1h-1zM-3 -5h7v1h-7zM-4 -4h2v1h-2zM3 -4h2v1h-2zM-5 -3h2v1h-2zM4 -3h2v1h-2zM-5 -2h1v1h-1zM5 -2h1v1h-1zM-5 -1h1v1h-1zM5 -1h1v1h-1zM-6 0h2v1h-2zM5 0h2v1h-2zM-5 1h1v1h-1zM5 1h1v1h-1zM-5 2h1v1h-1zM5 2h1v1h-1zM-5 3h2v1h-2zM4 3h2v1h-2zM-4 4h2v1h-2zM3 4h2v1h-2zM-3 5h7v1h-7zM0 6h1v1h-1z" fill="#0072b2" shape-rendering="crispEdges"/>
<path transform="translate(1099,490)" d="M0 -6h1v1h-1zM-3 -5h7v1h-7zM-4 -4h2v1h-2zM3 -4h2v1h-2zM-5 -3h2v1h-2zM4 -3h2v1h-2zM-5 -2h1v1h-1zM5 -2h1v1h-1zM-5 -1h1v1h-1zM5 -1h1v1h-1zM-6 0h2v1h-2zM5 0h2v1h-2zM-5 1h1v1h-1zM5 1h1v1h-1zM-5 2h1v1h-1zM5 2h1v1h-1zM-5 3h2v1h-2zM4 3h2v1h-2zM-4 4h2v1h-2zM3 4h2v1h-2zM-3 5h7v1h-7zM0 6h1v1h-1z" fill="#0072b2" shape-rendering="crispEdges"/>
<path transform="translate(1105,501)" d="M0 -6h1v1h-1zM-3 -5h7v1h-7zM-4 -4h2v1h-2zM3 -4h2v1h-2zM-5 -3h2v1h-2zM4 -3h2v1h-2zM-5 -2h1v1h-1zM5 -2h1v1h-1zM-5 -1h1v1h-1zM5 -1h1v1h-1zM-6 0h2v1h-2zM5 0h2v1h-2zM-5 1h1v1h-1zM5 1h1v1h-1zM-5 2h1v1h-1zM5 2h1v1h-1zM-5 3h2v1h-2zM4 3h2v1h-2zM-4 4h2v1h-2zM3 4h2v1h-2zM-3 5h7v1h-7zM0 6h1v1h-1z" fill="#0072b2" shape-rendering="crispEdges"/>
<path transform="translate(1152,504)" d="M0 -6h1v1h-1zM-3 -5h7v1h-7zM-4 -4h2v1h-2zM3 -4h2v1h-2zM-5 -3h2v1h-2zM4 -3h2v1h-2zM-5 -2h1v1h-1zM5 -2h1v1h-1zM-5 -1h1v1h-1zM5 -1h1v1h-1zM-6 0h2v1h-2zM5 0h2v1h-2zM-5 1h1v1h-1zM5 1h1v1h-1zM-5 2h1v1h-1zM5 2h1v1h-1zM-5 3h2v1h-2zM4 3h2v1h-2zM-4 4h2v1h-2zM3 4h2v1h-2zM-3 5h7v1h-7zM0 6h1v1h-1z" fill="#0072b2" shape-rendering="crispEdges"/>
<path transform="translate(1158,486)" d="M0 -6h1v1h-1zM-3 -5h7v1h-7zM-4 -4h2v1h-2zM3 -4h2v1h-2zM-5 -3h2v1h-2zM4 -3h2v1h-2zM-5 -2h1v1h-1zM5 -2h1v1h-1zM-5 -1h1v1h-1zM5 -1h1v1h-1zM-6 0h2v1h-2zM5 0h2v1h-2zM-5 1h1v1h-1zM5 1h1v1h-1zM-5 2h1v1h-1zM5 2h1v1h-1zM-5 3h2v1h-2zM4 3h2v1h-2zM-4 4h2v1h-2zM3 4h2v1h-2zM-3 5h7v1h-7zM0 6h1v1h-1z" fill="#0072b2" shape-rendering="crispEdges"/>
<path transform="translate(1205,494)" d="M0 -6h1v1h-1zM-3 -5h7v1h-7zM-4 -4h2v1h-2zM3 -4h2v1h-2zM-5 -3h2v1h-2zM4 -3h2v1h-2zM-5 -2h1v1h-1zM5 -2h1v1h-1zM-5 -1h1v1h-1zM5 -1h1v1h-1zM-6 0h2v1h-2zM5 0h2v1h-2zM-5 1h1v1h-1zM5 1h1v1h-1zM-5 2h1v1h-1zM5 2h1v1h-1zM-5 3h2v1h-2zM4 3h2v1h-2zM-4 4h2v1h-2zM3 4h2v1h-2zM-3 5h7v1h-7zM0 6h1v1h-1z" fill="#0072b2" shape-rendering="crispEdges"/>
<path transform="translate(1211,498)" d="M0 -6h1v1h-1zM-3 -5h7v1h-7zM-4 -4h2v1h-2zM3 -4h2v1h-2zM-5 -3h2v1h-2zM4 -3h2v1h-2zM-5 -2h1v1h-1zM5 -2h1v1h-1zM-5 -1h1v1h-1zM5 -1h1v1h-1zM-6 0h2v1h-2zM5 0h2v1h-2zM-5 1h1v1h-1zM5 1h1v1h-1zM-5 2h1v1h-1zM5 2h1v1h-1zM-5 3h2v1h-2zM4 3h2v1h-2zM-4 4h2v1h-2zM3 4h2v1h-2zM-3 5h7v1h-7zM0 6h1v1h-1z" fill="#0072b2" shape-rendering="crispEdges"/>
<path transform="translate(1258,501)" d="M0 -6h1v1h-1zM-3 -5h7v1h-7zM-4 -4h2v1h-2zM3 -4h2v1h-2zM-5 -3h2v1h-2zM4 -3h2v1h-2zM-5 -2h1v1h-1zM5 -2h1v1h-1zM-5 -1h1v1h-1zM5 -1h1v1h-1zM-6 0h2v1h-2zM5 0h2v1h-2zM-5 1h1v1h-1zM5 1h1v1h-1zM-5 2h1v1h-1zM5 2h1v1h-1zM-5 3h2v1h-2zM4 3h2v1h-2zM-4 4h2v1h-2zM3 4h2v1h-2zM-3 5h7v1h-7zM0 6h1v1h-1z" fill="#0072b2" shape-rendering="crispEdges"/>
<path transform="translate(1264,505)" d="M0 -6h1v1h-1zM-3 -5h7v1h-7zM-4 -4h2v1h-2zM3 -4h2v1h-2zM-5 -3h2v1h-2zM4 -3h2v1h-2zM-5 -2h1v1h-1zM5 -2h1v1h-1zM-5 -1h1v1h-1zM5 -1h1v1h-1zM-6 0h2v1h-2zM5 0h2v1h-2zM-5 1h1v1h-1zM5 1h1v1h-1zM-5 2h1v1h-1zM5 2h1v1h-1zM-5 3h2v1h-2zM4 3h2v1h-2zM-4 4h2v1h-2zM3 4h2v1h-2zM-3 5h7v1h-7zM0 6h1v1h-1z" fill="#0072b2" shape-rendering="crispEdges"/>
<path transform="translate(1311,498)" d="M0 -6h1v1h-1zM-3 -5h7v1h-7zM-4 -4h2v1h-2zM3 -4h2v1h-2zM-5 -3h2v1h-2zM4 -3h2v1h-2zM-5 -2h1v1h-1zM5 -2h1v1h-1zM-5 -1h1v1h-1zM5 -1h1v1h-1zM-6 0h2v1h-2zM5 0h2v1h-2zM-5 1h1v1h-1zM5 1h1v1h-1zM-5 2h1v1h-1zM5 2h1v1h-1zM-5 3h2v1h-2zM4 3h2v1h-2zM-4 4h2v1h-2zM3 4h2v1h-2zM-3 5h7v1h-7zM0 6h1v1h-1z" fill="#0072b2" shape-rendering="crispEdges"/>
<path transform="translate(1318,486)" d="M0 -6h1v1h-1zM-3 -5h7v1h-7zM-4 -4h2v1h-2zM3 -4h2v1h-2zM-5 -3h2v1h-2zM4 -3h2v1h-2zM-5 -2h1v1h-1zM5 -2h1v1h-1zM-5 -1h1v1h-1zM5 -1h1v1h-1zM-6 0h2v1h-2zM5 0h2v1h-2zM-5 1h1v1h-1zM5 1h1v1h-1zM-5 2h1v1h-1zM5 2h1v1h-1zM-5 3h2v1h-2zM4 3h2v1h-2zM-4 4h2v1h-2zM3 4h2v1h-2zM-3 5h7v1h-7zM0 6h1v1h-1z" fill="#0072b2" shape-rendering="crispEdges"/>
<path transform="translate(1365,498)" d="M0 -6h1v1h-1zM-3 -5h7v1h-7zM-4 -4h2v1h-2zM3 -4h2v1h-2zM-5 -3h2v1h-2zM4 -3h2v1h-2zM-5 -2h1v1h-1zM5 -2h1v1h-1zM-5 -1h1v1h-1zM5 -1h1v1h-1zM-6 0h2v1h-2zM5 0h2v1h-2zM-5 1h1v1h-1zM5 1h1v1h-1zM-5 2h1v1h-1zM5 2h1v1h-1zM-5 3h2v1h-2zM4 3h2v1h-2zM-4 4h2v1h-2zM3 4h2v1h-2zM-3 5h7v1h-7zM0 6h1v1h-1z" fill="#0072b2" shape-rendering="crispEdges"/>
<path transform="translate(96,537)" d="M0 -6h1v1h-1zM-3 -5h7v1h-7zM-4 -4h9v1h-9zM-5 -3h11v1h-11zM-5 -2h11v1h-11zM-5 -1h11v1h-11zM-6 0h13v1h-13zM-5 1h11v1h-11zM-5 2h11v1h-11zM-5 3h11v1h-11zM-4 4h9v1h-9zM-3 5h7v1h-7zM0 6h1v1h-1z" fill="#e51e10" shape-rendering="crispEdges"/>
<path transform="translate(143,537)" d="M0 -6h1v1h-1zM-3 -5h7v1h-7zM-4 -4h9v1h-9zM-5 -3h11v1h-11zM-5 -2h11v1h-11zM-5 -1h11v1h-11zM-6 0h13v1h-13zM-5 1h11v1h-11zM-5 2h11v1h-11zM-5 3h11v1h-11zM-4 4h9v1h-9zM-3 5h7v1h-7zM0 6h1v1h-1z" fill="#e51e10" shape-rendering="crispEdges"/>
<path transform="translate(202,537)" d="M0 -6h1v1h-1zM-3 -5h7v1h-7zM-4 -4h9v1h-9zM-5 -3h11v1h-11zM-5 -2h11v1h-11zM-5 -1h11v1h-11zM-6 0h13v1h-13zM-5 1h11v1h-11zM-5 2h11v1h-11zM-5 3h11v1h-11zM-4 4h9v1h-9zM-3 5h7v1h-7zM0 6h1v1h-1z" fill="#e51e10" shape-rendering="crispEdges"/>
<path transform="translate(248,537)" d="M0 -6h1v1h-1zM-3 -5h7v1h-7zM-4 -4h9v1h-9zM-5 -3h11v1h-11zM-5 -2h11v1h-11zM-5 -1h11v1h-11zM-6 0h13v1h-13zM-5 1h11v1h-11zM-5 2h11v1h-11zM-5 3h11v1h-11zM-4 4h9v1h-9zM-3 5h7v1h-7zM0 6h1v1h-1z" fill="#e51e10" shape-rendering="crispEdges"/>
<path transform="translate(255,537)" d="M0 -6h1v1h-1zM-3 -5h7v1h-7zM-4 -4h9v1h-9zM-5 -3h11v1h-11zM-5 -2h11v1h-11zM-5 -1h11v1h-11zM-6 0h13v1h-13zM-5 1h11v1h-11zM-5 2h11v1h-11zM-5 3h11v1h-11zM-4 4h9v1h-9zM-3 5h7v1h-7zM0 6h1v1h-1z" fill="#e51e10" shape-rendering="crispEdges"/>
<path transform="translate(302,537)" d="M0 -6h1v1h-1zM-3 -5h7v1h-7zM-4 -4h9v1h-9zM-5 -3h11v1h-11zM-5 -2h11v1h-11zM-5 -1h11v1h-11zM-6 0h13v1h-13zM-5 1h11v1h-11zM-5 2h11v1h-11zM-5 3h11v1h-11zM-4 4h9v1h-9zM-3 5h7v1h-7zM0 6h1v1h-1z" fill="#e51e10" shape-rendering="crispEdges"/>
<path transform="translate(308,537)" d="M0 -6h1v1h-1zM-3 -5h7v1h-7zM-4 -4h9v1h-9zM-5 -3h11v1h-11zM-5 -2h11v1h-11zM-5 -1h11v1h-11zM-6 0h13v1h-13zM-5 1h11v1h-11zM-5 2h11v1h-11zM-5 3h11v1h-11zM-4 4h9v1h-9zM-3 5h7v1h-7zM0 6h1v1h-1z" fill="#e51e10" shape-rendering="crispEdges"/>
<path transform="translate(355,537)" d="M0 -6h1v1h-1zM-3 -5h7v1h-7zM-4 -4h9v1h-9zM-5 -3h11v1h-11zM-5 -2h11v1h-11zM-5 -1h11v1h-11zM-6 0h13v1h-13zM-5 1h11v1h-11zM-5 2h11v1h-11zM-5 3h11v1h-11zM-4 4h9v1h-9zM-3 5h7v1h-7zM0 6h1v1h-1z" fill="#e51e10" shape-rendering="crispEdges"/>
<path transform="translate(361,537)" d="M0 -6h1v1h-1zM-3 -5h7v1h-7zM-4 -4h9v1h-9zM-5 -3h11v1h-11zM-5 -2h11v1h-11zM-5 -1h11v1h-11zM-6 0h13v1h-13zM-5 1h11v1h-11zM-5 2h11v1h-11zM-5 3h11v1h-11zM-4 4h9v1h-9zM-3 5h7v1h-7zM0 6h1v1h-1z" fill="#e51e10" shape-rendering="crispEdges"/>
<path transform="translate(408,537)" d="M0 -6h1v1h-1zM-3 -5h7v1h-7zM-4 -4h9v1h-9zM-5 -3h11v1h-11zM-5 -2h11v1h-11zM-5 -1h11v1h-11zM-6 0h13v1h-13zM-5 1h11v1h-11zM-5 2h11v1h-11zM-5 3h11v1h-11zM-4 4h9v1h-9zM-3 5h7v1h-7zM0 6h1v1h-1z" fill="#e51e10" shape-rendering="crispEdges"/>
<path transform="translate(414,537)" d="M0 -6h1v1h-1zM-3 -5h7v1h-7zM-4 -4h9v1h-9zM-5 -3h11v1h-11zM-5 -2h11v1h-11zM-5 -1h11v1h-11zM-6 0h13v1h-13zM-5 1h11v1h-11zM-5 2h11v1h-11zM-5 3h11v1h-11zM-4 4h9v1h-9zM-3 5h7v1h-7zM0 6h1v1h-1z" fill="#e51e10" shape-rendering="crispEdges"/>
<path transform="translate(461,537)" d="M0 -6h1v1h-1zM-3 -5h7v1h-7zM-4 -4h9v1h-9zM-5 -3h11v1h-11zM-5 -2h11v1h-11zM-5 -1h11v1h-11zM-6 0h13v1h-13zM-5 1h11v1h-11zM-5 2h11v1h-11zM-5 3h11v1h-11zM-4 4h9v1h-9zM-3 5h7v1h-7zM0 6h1v1h-1z" fill="#e51e10" shape-rendering="crispEdges"/>
<path transform="translate(467,537)" d="M0 -6h1v1h-1zM-3 -5h7v1h-7zM-4 -4h9v1h-9zM-5 -3h11v1h-11zM-5 -2h11v1h-11zM-5 -1h11v1h-11zM-6 0h13v1h-13zM-5 1h11v1h-11zM-5 2h11v1h-11zM-5 3h11v1h-11zM-4 4h9v1h-9zM-3 5h7v1h-7zM0 6h1v1h-1z" fill="#e51e10" shape-rendering="crispEdges"/>
<path transform="translate(514,537)" d="M0 -6h1v1h-1zM-3 -5h7v1h-7zM-4 -4h9v1h-9zM-5 -3h11v1h-11zM-5 -2h11v1h-11zM-5 -1h11v1h-11zM-6 0h13v1h-13zM-5 1h11v1h-11zM-5 2h11v1h-11zM-5 3h11v1h-11zM-4 4h9v1h-9zM-3 5h7v1h-7zM0 6h1v1h-1z" fill="#e51e10" shape-rendering="crispEdges"/>
<path transform="translate(520,537)" d="M0 -6h1v1h-1zM-3 -5h7v1h-7zM-4 -4h9v1h-9zM-5 -3h11v1h-11zM-5 -2h11v1h-11zM-5 -1h11v1h-11zM-6 0h13v1h-13zM-5 1h11v1h-11zM-5 2h11v1h-11zM-5 3h11v1h-11zM-4 4h9v1h-9zM-3 5h7v1h-7zM0 6h1v1h-1z" fill="#e51e10" shape-rendering="crispEdges"/>
<path transform="translate(567,537)" d="M0 -6h1v1h-1zM-3 -5h7v1h-7zM-4 -4h9v1h-9zM-5 -3h11v1h-11zM-5 -2h11v1h-11zM-5 -1h11v1h-11zM-6 0h13v1h-13zM-5 1h11v1h-11zM-5 2h11v1h-11zM-5 3h11v1h-11zM-4 4h9v1h-9zM-3 5h7v1h-7zM0 6h1v1h-1z" fill="#e51e10" shape-rendering="crispEdges"/>
<path transform="translate(573,537)" d="M0 -6h1v1h-1zM-3 -5h7v1h-7zM-4 -4h9v1h-9zM-5 -3h11v1h-11zM-5 -2h11v1h-11zM-5 -1h11v1h-11zM-6 0h13v1h-13zM-5 1h11v1h-11zM-5 2h11v1h-11zM-5 3h11v1h-11zM-4 4h9v1h-9zM-3 5h7v1h-7zM0 6h1v1h-1z" fill="#e51e10" shape-rendering="crispEdges"/>
<path transform="translate(620,537)" d="M0 -6h1v1h-1zM-3 -5h7v1h-7zM-4 -4h9v1h-9zM-5 -3h11v1h-11zM-5 -2h11v1h-11zM-5 -1h11v1h-11zM-6 0h13v1h-13zM-5 1h11v1h-11zM-5 2h11v1h-11zM-5 3h11v1h-11zM-4 4h9v1h-9zM-3 5h7v1h-7zM0 6h1v1h-1z" fill="#e51e10" shape-rendering="crispEdges"/>
<path transform="translate(627,537)" d="M0 -6h1v1h-1zM-3 -5h7v1h-7zM-4 -4h9v1h-9zM-5 -3h11v1h-11zM-5 -2h11v1h-11zM-5 -1h11v1h-11zM-6 0h13v1h-13zM-5 1h11v1h-11zM-5 2h11v1h-11zM-5 3h11v1h-11zM-4 4h9v1h-9zM-3 5h7v1h-7zM0 6h1v1h-1z" fill="#e51e10" shape-rendering="crispEdges"/>
<path transform="translate(673,537)" d="M0 -6h1v1h-1zM-3 -5h7v1h-7zM-4 -4h9v1h-9zM-5 -3h11v1h-11zM-5 -2h11v1h-11zM-5 -1h11v1h-11zM-6 0h13v1h-13zM-5 1h11v1h-11zM-5 2h11v1h-11zM-5 3h11v1h-11zM-4 4h9v1h-9zM-3 5h7v1h-7zM0 6h1v1h-1z" fill="#e51e10" shape-rendering="crispEdges"/>
<path transform="translate(680,537)" d="M0 -6h1v1h-1zM-3 -5h7v1h-7zM-4 -4h9v1h-9zM-5 -3h11v1h-11zM-5 -2h11v1h-11zM-5 -1h11v1h-11zM-6 0h13v1h-13zM-5 1h11v1h-11zM-5 2h11v1h-11zM-5 3h11v1h-11zM-4 4h9v1h-9zM-3 5h7v1h-7zM0 6h1v1h-1z" fill="#e51e10" shape-rendering="crispEdges"/>
<path transform="translate(727,537)" d="M0 -6h1v1h-1zM-3 -5h7v1h-7zM-4 -4h9v1h-9zM-5 -3h11v1h-11zM-5 -2h11v1h-11zM-5 -1h11v1h-11zM-6 0h13v1h-13zM-5 1h11v1h-11zM-5 2h11v1h-11zM-5 3h11v1h-11zM-4 4h9v1h-9zM-3 5h7v1h-7zM0 6h1v1h-1z" fill="#e51e10" shape-rendering="crispEdges"/>
<path transform="translate(733,537)" d="M0 -6h1v1h-1zM-3 -5h7v1h-7zM-4 -4h9v1h-9zM-5 -3h11v1h-11zM-5 -2h11v1h-11zM-5 -1h11v1h-11zM-6 0h13v1h-13zM-5 1h11v1h-11zM-5 2h11v1h-11zM-5 3h11v1h-11zM-4 4h9v1h-9zM-3 5h7v1h-7zM0 6h1v1h-1z" fill="#e51e10" shape-rendering="crispEdges"/>
<path transform="translate(780,537)" d="M0 -6h1v1h-1zM-3 -5h7v1h-7zM-4 -4h9v1h-9zM-5 -3h11v1h-11zM-5 -2h11v1h-11zM-5 -1h11v1h-11zM-6 0h13v1h-13zM-5 1h11v1h-11zM-5 2h11v1h-11zM-5 3h11v1h-11zM-4 4h9v1h-9zM-3 5h7v1h-7zM0 6h1v1h-1z" fill="#e51e10" shape-rendering="crispEdges"/>
<path transform="translate(786,537)" d="M0 -6h1v1h-1zM-3 -5h7v1h-7zM-4 -4h9v1h-9zM-5 -3h11v1h-11zM-5 -2h11v1h-11zM-5 -1h11v1h-11zM-6 0h13v1h-13zM-5 1h11v1h-11zM-5 2h11v1h-11zM-5 3h11v1h-11zM-4 4h9v1h-9zM-3 5h7v1h-7zM0 6h1v1h-1z" fill="#e51e10" shape-rendering="crispEdges"/>
<path transform="translate(833,537)" d="M0 -6h1v1h-1zM-3 -5h7v1h-7zM-4 -4h9v1h-9zM-5 -3h11v1h-11zM-5 -2h11v1h-11zM-5 -1h11v1h-11zM-6 0h13v1h-13zM-5 1h11v1h-11zM-5 2h11v1h-11zM-5 3h11v1h-11zM-4 4h9v1h-9zM-3 5h7v1h-7zM0 6h1v1h-1z" fill="#e51e10" shape-rendering="crispEdges"/>
<path transform="translate(839,537)" d="M0 -6h1v1h-1zM-3 -5h7v1h-7zM-4 -4h9v1h-9zM-5 -3h11v1h-11zM-5 -2h11v1h-11zM-5 -1h11v1h-11zM-6 0h13v1h-13zM-5 1h11v1h-11zM-5 2h11v1h-11zM-5 3h11v1h-11zM-4 4h9v1h-9zM-3 5h7v1h-7zM0 6h1v1h-1z" fill="#e51e10" shape-rendering="crispEdges"/>
<path transform="translate(886,537)" d="M0 -6h1v1h-1zM-3 -5h7v1h-7zM-4 -4h9v1h-9zM-5 -3h11v1h-11zM-5 -2h11v1h-11zM-5 -1h11v1h-11zM-6 0h13v1h-13zM-5 1h11v1h-11zM-5 2h11v1h-11zM-5 3h11v1h-11zM-4 4h9v1h-9zM-3 5h7v1h-7zM0 6h1v1h-1z" fill="#e51e10" shape-rendering="crispEdges"/>
<path transform="translate(892,537)" d="M0 -6h1v1h-1zM-3 -5h7v1h-7zM-4 -4h9v1h-9zM-5 -3h11v1h-11zM-5 -2h11v1h-11zM-5 -1h11v1h-11zM-6 0h13v1h-13zM-5 1h11v1h-11zM-5 2h11v1h-11zM-5 3h11v1h-11zM-4 4h9v1h-9zM-3 5h7v1h-7zM0 6h1v1h-1z" fill="#e51e10" shape-rendering="crispEdges"/>
<path transform="translate(939,537)" d="M0 -6h1v1h-1zM-3 -5h7v1h-7zM-4 -4h9v1h-9zM-5 -3h11v1h-11zM-5 -2h11v1h-11zM-5 -1h11v1h-11zM-6 0h13v1h-13zM-5 1h11v1h-11zM-5 2h11v1h-11zM-5 3h11v1h-11zM-4 4h9v1h-9zM-3 5h7v1h-7zM0 6h1v1h-1z" fill="#e51e10" shape-rendering="crispEdges"/>
<path transform="translate(945,537)" d="M0 -6h1v1h-1zM-3 -5h7v1h-7zM-4 -4h9v1h-9zM-5 -3h11v1h-11zM-5 -2h11v1h-11zM-5 -1h11v1h-11zM-6 0h13v1h-13zM-5 1h11v1h-11zM-5 2h11v1h-11zM-5 3h11v1h-11zM-4 4h9v1h-9zM-3 5h7v1h-7zM0 6h1v1h-1z" fill="#e51e10" shape-rendering="crispEdges"/>
<path transform="translate(992,537)" d="M0 -6h1v1h-1zM-3 -5h7v1h-7zM-4 -4h9v1h-9zM-5 -3h11v1h-11zM-5 -2h11v1h-11zM-5 -1h11v1h-11zM-6 0h13v1h-13zM-5 1h11v1h-11zM-5 2h11v1h-11zM-5 3h11v1h-11zM-4 4h9v1h-9zM-3 5h7v1h-7zM0 6h1v1h-1z" fill="#e51e10" shape-rendering="crispEdges"/>
<path transform="translate(998,537)" d="M0 -6h1v1h-1zM-3 -5h7v1h-7zM-4 -4h9v1h-9zM-5 -3h11v1h-11zM-5 -2h11v1h-11zM-5 -1h11v1h-11zM-6 0h13v1h-13zM-5 1h11v1h-11zM-5 2h11v1h-11zM-5 3h11v1h-11zM-4 4h9v1h-9zM-3 5h7v1h-7zM0 6h1v1h-1z" fill="#e51e10" shape-rendering="crispEdges"/>
<path transform="translate(1045,537)" d="M0 -6h1v1h-1zM-3 -5h7v1h-7zM-4 -4h9v1h-9zM-5 -3h11v1h-11zM-5 -2h11v1h-11zM-5 -1h11v1h-11zM-6 0h13v1h-13zM-5 1h11v1h-11zM-5 2h11v1h-11zM-5 3h11v1h-11zM-4 4h9v1h-9zM-3 5h7v1h-7zM0 6h1v1h-1z" fill="#e51e10" shape-rendering="crispEdges"/>
<path transform="translate(1052,537)" d="M0 -6h1v1h-1zM-3 -5h7v1h-7zM-4 -4h9v1h-9zM-5 -3h11v1h-11zM-5 -2h11v1h-11zM-5 -1h11v1h-11zM-6 0h13v1h-13zM-5 1h11v1h-11zM-5 2h11v1h-11zM-5 3h11v1h-11zM-4 4h9v1h-9zM-3 5h7v1h-7zM0 6h1v1h-1z" fill="#e51e10" shape-rendering="crispEdges"/>
<path transform="translate(1098,537)" d="M0 -6h1v1h-1zM-3 -5h7v1h-7zM-4 -4h9v1h-9zM-5 -3h11v1h-11zM-5 -2h11v1h-11zM-5 -1h11v1h-11zM-6 0h13v1h-13zM-5 1h11v1h-11zM-5 2h11v1h-11zM-5 3h11v1h-11zM-4 4h9v1h-9zM-3 5h7v1h-7zM0 6h1v1h-1z" fill="#e51e10" shape-rendering="crispEdges"/>
<path transform="translate(1105,537)" d="M0 -6h1v1h-1zM-3 -5h7v1h-7zM-4 -4h9v1h-9zM-5 -3h11v1h-11zM-5 -2h11v1h-11zM-5 -1h11v1h-11zM-6 0h13v1h-13zM-5 1h11v1h-11zM-5 2h11v1h-11zM-5 3h11v1h-11zM-4 4h9v1h-9zM-3 5h7v1h-7zM0 6h1v1h-1z" fill="#e51e10" shape-rendering="crispEdges"/>
<path transform="translate(1152,537)" d="M0 -6h1v1h-1zM-3 -5h7v1h-7zM-4 -4h9v1h-9zM-5 -3h11v1h-11zM-5 -2h11v1h-11zM-5 -1h11v1h-11zM-6 0h13v1h-13zM-5 1h11v1h-11zM-5 2h11v1h-11zM-5 3h11v1h-11zM-4 4h9v1h-9zM-3 5h7v1h-7zM0 6h1v1h-1z" fill="#e51e10" shape-rendering="crispEdges"/>
<path transform="translate(1158,537)" d="M0 -6h1v1h-1zM-3 -5h7v1h-7zM-4 -4h9v1h-9zM-5 -3h11v1h-11zM-5 -2h11v1h-11zM-5 -1h11v1h-11zM-6 0h13v1h-13zM-5 1h11v1h-11zM-5 2h11v1h-11zM-5 3h11v1h-11zM-4 4h9v1h-9zM-3 5h7v1h-7zM0 6h1v1h-1z" fill="#e51e10" shape-rendering="crispEdges"/>
<path transform="translate(1205,537)" d="M0 -6h1v1h-1zM-3 -5h7v1h-7zM-4 -4h9v1h-9zM-5 -3h11v1h-11zM-5 -2h11v1h-11zM-5 -1h11v1h-11zM-6 0h13v1h-13zM-5 1h11v1h-11zM-5 2h11v1h-11zM-5 3h11v1h-11zM-4 4h9v1h-9zM-3 5h7v1h-7zM0 6h1v1h-1z" fill="#e51e10" shape-rendering="crispEdges"/>
<path transform="translate(1211,537)" d="M0 -6h1v1h-1zM-3 -5h7v1h-7zM-4 -4h9v1h-9zM-5 -3h11v1h-11zM-5 -2h11v1h-11zM-5 -1h11v1h-11zM-6 0h13v1h-13zM-5 1h11v1h-11zM-5 2h11v1h-11zM-5 3h11v1h-11zM-4 4h9v1h-9zM-3 5h7v1h-7zM0 6h1v1h-1z" fill="#e51e10" shape-rendering="crispEdges"/>
<path transform="translate(1258,537)" d="M0 -6h1v1h-1zM-3 -5h7v1h-7zM-4 -4h9v1h-9zM-5 -3h11v1h-11zM-5 -2h11v1h-11zM-5 -1h11v1h-11zM-6 0h13v1h-13zM-5 1h11v1h-11zM-5 2h11v1h-11zM-5 3h11v1h-11zM-4 4h9v1h-9zM-3 5h7v1h-7zM0 6h1v1h-1z" fill="#e51e10" shape-rendering="crispEdges"/>
<path transform="translate(1264,537)" d="M0 -6h1v1h-1zM-3 -5h7v1h-7zM-4 -4h9v1h-9zM-5 -3h11v1h-11zM-5 -2h11v1h-11zM-5 -1h11v1h-11zM-6 0h13v1h-13zM-5 1h11v1h-11zM-5 2h11v1h-11zM-5 3h11v1h-11zM-4 4h9v1h-9zM-3 5h7v1h-7zM0 6h1v1h-1z" fill="#e51e10" shape-rendering="crispEdges"/>
<path transform="translate(1311,537)" d="M0 -6h1v1h-1zM-3 -5h7v1h-7zM-4 -4h9v1h-9zM-5 -3h11v1h-11zM-5 -2h11v1h-11zM-5 -1h11v1h-11zM-6 0h13v1h-13zM-5 1h11v1h-11zM-5 2h11v1h-11zM-5 3h11v1h-11zM-4 4h9v1h-9zM-3 5h7v1h-7zM0 6h1v1h-1z" fill="#e51e10" shape-rendering="crispEdges"/>
<path transform="translate(1317,537)" d="M0 -6h1v1h-1zM-3 -5h7v1h-7zM-4 -4h9v1h-9zM-5 -3h11v1h-11zM-5 -2h11v1h-11zM-5 -1h11v1h-11zM-6 0h13v1h-13zM-5 1h11v1h-11zM-5 2h11v1h-11zM-5 3h11v1h-11zM-4 4h9v1h-9zM-3 5h7v1h-7zM0 6h1v1h-1z" fill="#e51e10" shape-rendering="crispEdges"/>
<path transform="translate(1365,537)" d="M0 -6h1v1h-1zM-3 -5h7v1h-7zM-4 -4h9v1h-9zM-5 -3h11v1h-11zM-5 -2h11v1h-11zM-5 -1h11v1h-11zM-6 0h13v1h-13zM-5 1h11v1h-11zM-5 2h11v1h-11zM-5 3h11v1h-11zM-4 4h9v1h-9zM-3 5h7v1h-7zM0 6h1v1h-1z" fill="#e51e10" shape-rendering="crispEdges"/>
<polygon points="235.0,468.1 242.6,456.2 250.2,468.1" fill="none" stroke="#000000" stroke-width="1" shape-rendering="crispEdges"/>
<polygon points="275.4,468.1 283.0,456.2 290.6,468.1" fill="none" stroke="#000000" stroke-width="1" shape-rendering="crispEdges"/>
<polygon points="287.4,468.1 295.0,456.2 302.6,468.1" fill="none" stroke="#000000" stroke-width="1" shape-rendering="crispEdges"/>
<polygon points="305.4,468.1 313.0,456.2 320.6,468.1" fill="none" stroke="#000000" stroke-width="1" shape-rendering="crispEdges"/>
<polygon points="314.4,468.1 322.0,456.2 329.6,468.1" fill="none" stroke="#000000" stroke-width="1" shape-rendering="crispEdges"/>
<polygon points="324.4,468.1 332.0,456.2 339.6,468.1" fill="none" stroke="#000000" stroke-width="1" shape-rendering="crispEdges"/>
<polygon points="341.4,468.1 349.0,456.2 356.6,468.1" fill="none" stroke="#000000" stroke-width="1" shape-rendering="crispEdges"/>
<polygon points="1087.8,468.1 1095.4,456.2 1103.0,468.1" fill="none" stroke="#000000" stroke-width="1" shape-rendering="crispEdges"/>
<path d="M94.5 57.5H1369.5V539.5H94.5Z" stroke="#000" stroke-width="1" fill="none"/>
</svg></body></html>
